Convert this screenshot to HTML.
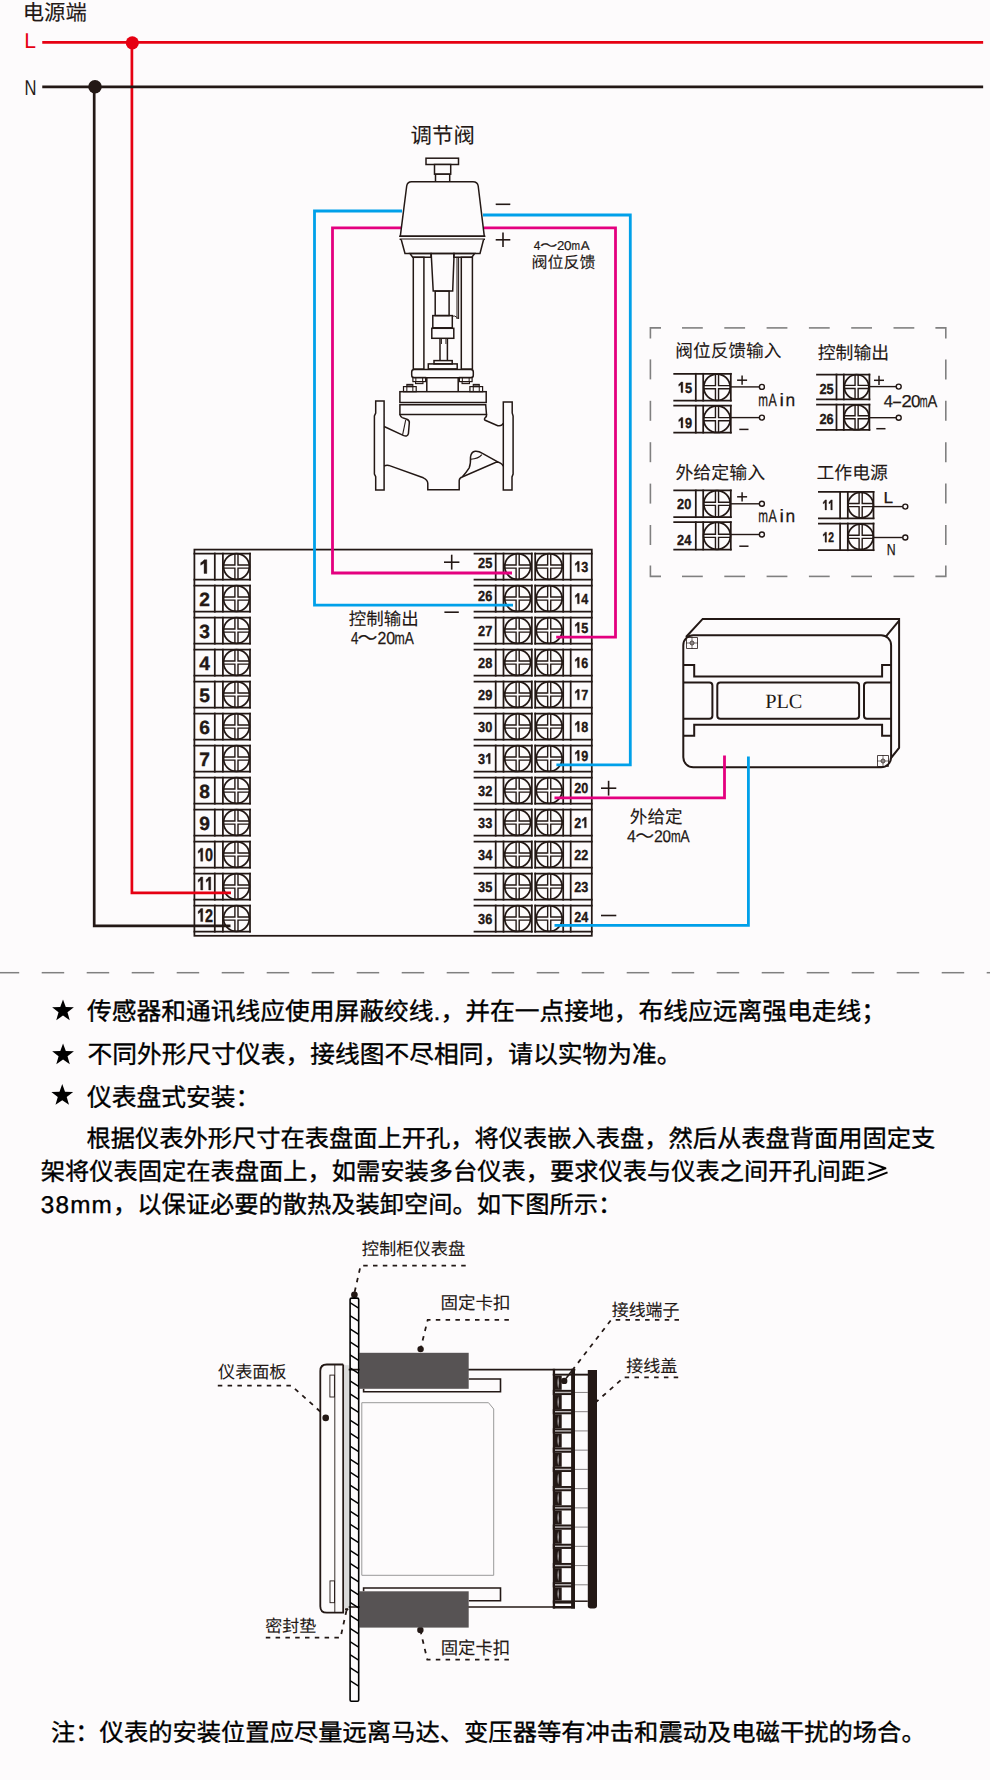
<!DOCTYPE html>
<html lang="zh-CN"><head><meta charset="utf-8"><title>wiring</title>
<style>
html,body{margin:0;padding:0;background:#fdfbfc;width:990px;height:1780px;overflow:hidden}
svg{display:block}

</style></head><body>
<svg width="990" height="1780" viewBox="0 0 990 1780">
<rect x="0" y="0" width="990" height="1780" fill="#fdfbfc"/>
<rect x="194.4" y="549.6" width="397.4" height="386.2" rx="0" fill="none" stroke="#231815" stroke-width="1.75" />
<line x1="194.4" y1="553.5" x2="250" y2="553.5" stroke="#231815" stroke-width="1.75" stroke-linecap="square" />
<line x1="194.4" y1="579.7" x2="250" y2="579.7" stroke="#231815" stroke-width="1.75" stroke-linecap="square" />
<line x1="214.8" y1="553.5" x2="214.8" y2="579.7" stroke="#231815" stroke-width="1.75" stroke-linecap="square" />
<line x1="222.9" y1="553.5" x2="222.9" y2="579.7" stroke="#231815" stroke-width="1.75" stroke-linecap="square" />
<line x1="250" y1="553.5" x2="250" y2="579.7" stroke="#231815" stroke-width="1.75" stroke-linecap="square" />
<circle cx="236.45" cy="566.60" r="12.90" fill="none" stroke="#231815" stroke-width="1.75"/>
<path d="M234.90,553.5 V565.05 H222.9 M238.00,553.5 V565.05 H250.0 M234.90,579.7 V568.15 H222.9 M238.00,579.7 V568.15 H250.0" fill="none" stroke="#231815" stroke-width="1.4"/>
<path d="M0.394,0 H0.25 V-0.53 L0.075,-0.43 V-0.565 Q0.2,-0.63 0.255,-0.716 H0.394 Z" fill="#231815" stroke="#231815" stroke-width="0.35" vector-effect="non-scaling-stroke" transform="translate(199.26 573.50) scale(19.200 19.200)"/>
<line x1="474.5" y1="553.5" x2="531.8" y2="553.5" stroke="#231815" stroke-width="1.75" stroke-linecap="square" />
<line x1="474.5" y1="579.7" x2="531.8" y2="579.7" stroke="#231815" stroke-width="1.75" stroke-linecap="square" />
<line x1="535.2" y1="553.5" x2="591.8" y2="553.5" stroke="#231815" stroke-width="1.75" stroke-linecap="square" />
<line x1="535.2" y1="579.7" x2="591.8" y2="579.7" stroke="#231815" stroke-width="1.75" stroke-linecap="square" />
<line x1="495.7" y1="553.5" x2="495.7" y2="579.7" stroke="#231815" stroke-width="1.75" stroke-linecap="square" />
<line x1="503.5" y1="553.5" x2="503.5" y2="579.7" stroke="#231815" stroke-width="1.75" stroke-linecap="square" />
<line x1="531.8" y1="553.5" x2="531.8" y2="579.7" stroke="#231815" stroke-width="1.75" stroke-linecap="square" />
<line x1="535.2" y1="553.5" x2="535.2" y2="579.7" stroke="#231815" stroke-width="1.75" stroke-linecap="square" />
<line x1="563.2" y1="553.5" x2="563.2" y2="579.7" stroke="#231815" stroke-width="1.75" stroke-linecap="square" />
<line x1="570.7" y1="553.5" x2="570.7" y2="579.7" stroke="#231815" stroke-width="1.75" stroke-linecap="square" />
<circle cx="517.65" cy="566.60" r="12.90" fill="none" stroke="#231815" stroke-width="1.75"/>
<path d="M516.10,553.5 V565.05 H503.5 M519.20,553.5 V565.05 H531.8 M516.10,579.7 V568.15 H503.5 M519.20,579.7 V568.15 H531.8" fill="none" stroke="#231815" stroke-width="1.4"/>
<circle cx="549.20" cy="566.60" r="12.90" fill="none" stroke="#231815" stroke-width="1.75"/>
<path d="M547.65,553.5 V565.05 H535.2 M550.75,553.5 V565.05 H563.2 M547.65,579.7 V568.15 H535.2 M550.75,579.7 V568.15 H563.2" fill="none" stroke="#231815" stroke-width="1.4"/>
<text x="0" y="0" font-size="14.6" fill="#231815" font-weight="bold" font-family="Liberation Sans" text-rendering="geometricPrecision" stroke="#231815" stroke-width="0.35" transform="translate(478.10 568.40) scale(0.8746 1)">2</text>
<text x="0" y="0" font-size="14.6" fill="#231815" font-weight="bold" font-family="Liberation Sans" text-rendering="geometricPrecision" stroke="#231815" stroke-width="0.35" transform="translate(485.20 568.40) scale(0.8746 1)">5</text>
<path d="M0.394,0 H0.25 V-0.53 L0.075,-0.43 V-0.565 Q0.2,-0.63 0.255,-0.716 H0.394 Z" fill="#231815" stroke="#231815" stroke-width="0.35" vector-effect="non-scaling-stroke" transform="translate(574.30 571.80) scale(12.590 14.600)"/>
<text x="0" y="0" font-size="14.6" fill="#231815" font-weight="bold" font-family="Liberation Sans" text-rendering="geometricPrecision" stroke="#231815" stroke-width="0.35" transform="translate(581.30 571.80) scale(0.8623 1)">3</text>
<line x1="194.4" y1="585.5" x2="250" y2="585.5" stroke="#231815" stroke-width="1.75" stroke-linecap="square" />
<line x1="194.4" y1="611.7" x2="250" y2="611.7" stroke="#231815" stroke-width="1.75" stroke-linecap="square" />
<line x1="214.8" y1="585.5" x2="214.8" y2="611.7" stroke="#231815" stroke-width="1.75" stroke-linecap="square" />
<line x1="222.9" y1="585.5" x2="222.9" y2="611.7" stroke="#231815" stroke-width="1.75" stroke-linecap="square" />
<line x1="250" y1="585.5" x2="250" y2="611.7" stroke="#231815" stroke-width="1.75" stroke-linecap="square" />
<circle cx="236.45" cy="598.60" r="12.90" fill="none" stroke="#231815" stroke-width="1.75"/>
<path d="M234.90,585.5 V597.05 H222.9 M238.00,585.5 V597.05 H250.0 M234.90,611.7 V600.15 H222.9 M238.00,611.7 V600.15 H250.0" fill="none" stroke="#231815" stroke-width="1.4"/>
<text x="0" y="0" font-size="19.2" fill="#231815" font-weight="bold" font-family="Liberation Sans" text-rendering="geometricPrecision" stroke="#231815" stroke-width="0.35" transform="translate(199.26 605.50) scale(1.0000 1)">2</text>
<line x1="474.5" y1="585.5" x2="531.8" y2="585.5" stroke="#231815" stroke-width="1.75" stroke-linecap="square" />
<line x1="474.5" y1="611.7" x2="531.8" y2="611.7" stroke="#231815" stroke-width="1.75" stroke-linecap="square" />
<line x1="535.2" y1="585.5" x2="591.8" y2="585.5" stroke="#231815" stroke-width="1.75" stroke-linecap="square" />
<line x1="535.2" y1="611.7" x2="591.8" y2="611.7" stroke="#231815" stroke-width="1.75" stroke-linecap="square" />
<line x1="495.7" y1="585.5" x2="495.7" y2="611.7" stroke="#231815" stroke-width="1.75" stroke-linecap="square" />
<line x1="503.5" y1="585.5" x2="503.5" y2="611.7" stroke="#231815" stroke-width="1.75" stroke-linecap="square" />
<line x1="531.8" y1="585.5" x2="531.8" y2="611.7" stroke="#231815" stroke-width="1.75" stroke-linecap="square" />
<line x1="535.2" y1="585.5" x2="535.2" y2="611.7" stroke="#231815" stroke-width="1.75" stroke-linecap="square" />
<line x1="563.2" y1="585.5" x2="563.2" y2="611.7" stroke="#231815" stroke-width="1.75" stroke-linecap="square" />
<line x1="570.7" y1="585.5" x2="570.7" y2="611.7" stroke="#231815" stroke-width="1.75" stroke-linecap="square" />
<circle cx="517.65" cy="598.60" r="12.90" fill="none" stroke="#231815" stroke-width="1.75"/>
<path d="M516.10,585.5 V597.05 H503.5 M519.20,585.5 V597.05 H531.8 M516.10,611.7 V600.15 H503.5 M519.20,611.7 V600.15 H531.8" fill="none" stroke="#231815" stroke-width="1.4"/>
<circle cx="549.20" cy="598.60" r="12.90" fill="none" stroke="#231815" stroke-width="1.75"/>
<path d="M547.65,585.5 V597.05 H535.2 M550.75,585.5 V597.05 H563.2 M547.65,611.7 V600.15 H535.2 M550.75,611.7 V600.15 H563.2" fill="none" stroke="#231815" stroke-width="1.4"/>
<text x="0" y="0" font-size="14.6" fill="#231815" font-weight="bold" font-family="Liberation Sans" text-rendering="geometricPrecision" stroke="#231815" stroke-width="0.35" transform="translate(478.10 600.80) scale(0.8746 1)">2</text>
<text x="0" y="0" font-size="14.6" fill="#231815" font-weight="bold" font-family="Liberation Sans" text-rendering="geometricPrecision" stroke="#231815" stroke-width="0.35" transform="translate(485.20 600.80) scale(0.8746 1)">6</text>
<path d="M0.394,0 H0.25 V-0.53 L0.075,-0.43 V-0.565 Q0.2,-0.63 0.255,-0.716 H0.394 Z" fill="#231815" stroke="#231815" stroke-width="0.35" vector-effect="non-scaling-stroke" transform="translate(574.30 603.80) scale(12.590 14.600)"/>
<text x="0" y="0" font-size="14.6" fill="#231815" font-weight="bold" font-family="Liberation Sans" text-rendering="geometricPrecision" stroke="#231815" stroke-width="0.35" transform="translate(581.30 603.80) scale(0.8623 1)">4</text>
<line x1="194.4" y1="617.5" x2="250" y2="617.5" stroke="#231815" stroke-width="1.75" stroke-linecap="square" />
<line x1="194.4" y1="643.7" x2="250" y2="643.7" stroke="#231815" stroke-width="1.75" stroke-linecap="square" />
<line x1="214.8" y1="617.5" x2="214.8" y2="643.7" stroke="#231815" stroke-width="1.75" stroke-linecap="square" />
<line x1="222.9" y1="617.5" x2="222.9" y2="643.7" stroke="#231815" stroke-width="1.75" stroke-linecap="square" />
<line x1="250" y1="617.5" x2="250" y2="643.7" stroke="#231815" stroke-width="1.75" stroke-linecap="square" />
<circle cx="236.45" cy="630.60" r="12.90" fill="none" stroke="#231815" stroke-width="1.75"/>
<path d="M234.90,617.5 V629.05 H222.9 M238.00,617.5 V629.05 H250.0 M234.90,643.7 V632.15 H222.9 M238.00,643.7 V632.15 H250.0" fill="none" stroke="#231815" stroke-width="1.4"/>
<text x="0" y="0" font-size="19.2" fill="#231815" font-weight="bold" font-family="Liberation Sans" text-rendering="geometricPrecision" stroke="#231815" stroke-width="0.35" transform="translate(199.26 637.50) scale(1.0000 1)">3</text>
<line x1="474.5" y1="617.5" x2="531.8" y2="617.5" stroke="#231815" stroke-width="1.75" stroke-linecap="square" />
<line x1="474.5" y1="643.7" x2="531.8" y2="643.7" stroke="#231815" stroke-width="1.75" stroke-linecap="square" />
<line x1="535.2" y1="617.5" x2="591.8" y2="617.5" stroke="#231815" stroke-width="1.75" stroke-linecap="square" />
<line x1="535.2" y1="643.7" x2="591.8" y2="643.7" stroke="#231815" stroke-width="1.75" stroke-linecap="square" />
<line x1="495.7" y1="617.5" x2="495.7" y2="643.7" stroke="#231815" stroke-width="1.75" stroke-linecap="square" />
<line x1="503.5" y1="617.5" x2="503.5" y2="643.7" stroke="#231815" stroke-width="1.75" stroke-linecap="square" />
<line x1="531.8" y1="617.5" x2="531.8" y2="643.7" stroke="#231815" stroke-width="1.75" stroke-linecap="square" />
<line x1="535.2" y1="617.5" x2="535.2" y2="643.7" stroke="#231815" stroke-width="1.75" stroke-linecap="square" />
<line x1="563.2" y1="617.5" x2="563.2" y2="643.7" stroke="#231815" stroke-width="1.75" stroke-linecap="square" />
<line x1="570.7" y1="617.5" x2="570.7" y2="643.7" stroke="#231815" stroke-width="1.75" stroke-linecap="square" />
<circle cx="517.65" cy="630.60" r="12.90" fill="none" stroke="#231815" stroke-width="1.75"/>
<path d="M516.10,617.5 V629.05 H503.5 M519.20,617.5 V629.05 H531.8 M516.10,643.7 V632.15 H503.5 M519.20,643.7 V632.15 H531.8" fill="none" stroke="#231815" stroke-width="1.4"/>
<circle cx="549.20" cy="630.60" r="12.90" fill="none" stroke="#231815" stroke-width="1.75"/>
<path d="M547.65,617.5 V629.05 H535.2 M550.75,617.5 V629.05 H563.2 M547.65,643.7 V632.15 H535.2 M550.75,643.7 V632.15 H563.2" fill="none" stroke="#231815" stroke-width="1.4"/>
<text x="0" y="0" font-size="14.6" fill="#231815" font-weight="bold" font-family="Liberation Sans" text-rendering="geometricPrecision" stroke="#231815" stroke-width="0.35" transform="translate(478.10 635.80) scale(0.8746 1)">2</text>
<text x="0" y="0" font-size="14.6" fill="#231815" font-weight="bold" font-family="Liberation Sans" text-rendering="geometricPrecision" stroke="#231815" stroke-width="0.35" transform="translate(485.20 635.80) scale(0.8746 1)">7</text>
<path d="M0.394,0 H0.25 V-0.53 L0.075,-0.43 V-0.565 Q0.2,-0.63 0.255,-0.716 H0.394 Z" fill="#231815" stroke="#231815" stroke-width="0.35" vector-effect="non-scaling-stroke" transform="translate(574.30 632.80) scale(12.590 14.600)"/>
<text x="0" y="0" font-size="14.6" fill="#231815" font-weight="bold" font-family="Liberation Sans" text-rendering="geometricPrecision" stroke="#231815" stroke-width="0.35" transform="translate(581.30 632.80) scale(0.8623 1)">5</text>
<line x1="194.4" y1="649.5" x2="250" y2="649.5" stroke="#231815" stroke-width="1.75" stroke-linecap="square" />
<line x1="194.4" y1="675.7" x2="250" y2="675.7" stroke="#231815" stroke-width="1.75" stroke-linecap="square" />
<line x1="214.8" y1="649.5" x2="214.8" y2="675.7" stroke="#231815" stroke-width="1.75" stroke-linecap="square" />
<line x1="222.9" y1="649.5" x2="222.9" y2="675.7" stroke="#231815" stroke-width="1.75" stroke-linecap="square" />
<line x1="250" y1="649.5" x2="250" y2="675.7" stroke="#231815" stroke-width="1.75" stroke-linecap="square" />
<circle cx="236.45" cy="662.60" r="12.90" fill="none" stroke="#231815" stroke-width="1.75"/>
<path d="M234.90,649.5 V661.05 H222.9 M238.00,649.5 V661.05 H250.0 M234.90,675.7 V664.15 H222.9 M238.00,675.7 V664.15 H250.0" fill="none" stroke="#231815" stroke-width="1.4"/>
<text x="0" y="0" font-size="19.2" fill="#231815" font-weight="bold" font-family="Liberation Sans" text-rendering="geometricPrecision" stroke="#231815" stroke-width="0.35" transform="translate(199.26 669.50) scale(1.0000 1)">4</text>
<line x1="474.5" y1="649.5" x2="531.8" y2="649.5" stroke="#231815" stroke-width="1.75" stroke-linecap="square" />
<line x1="474.5" y1="675.7" x2="531.8" y2="675.7" stroke="#231815" stroke-width="1.75" stroke-linecap="square" />
<line x1="535.2" y1="649.5" x2="591.8" y2="649.5" stroke="#231815" stroke-width="1.75" stroke-linecap="square" />
<line x1="535.2" y1="675.7" x2="591.8" y2="675.7" stroke="#231815" stroke-width="1.75" stroke-linecap="square" />
<line x1="495.7" y1="649.5" x2="495.7" y2="675.7" stroke="#231815" stroke-width="1.75" stroke-linecap="square" />
<line x1="503.5" y1="649.5" x2="503.5" y2="675.7" stroke="#231815" stroke-width="1.75" stroke-linecap="square" />
<line x1="531.8" y1="649.5" x2="531.8" y2="675.7" stroke="#231815" stroke-width="1.75" stroke-linecap="square" />
<line x1="535.2" y1="649.5" x2="535.2" y2="675.7" stroke="#231815" stroke-width="1.75" stroke-linecap="square" />
<line x1="563.2" y1="649.5" x2="563.2" y2="675.7" stroke="#231815" stroke-width="1.75" stroke-linecap="square" />
<line x1="570.7" y1="649.5" x2="570.7" y2="675.7" stroke="#231815" stroke-width="1.75" stroke-linecap="square" />
<circle cx="517.65" cy="662.60" r="12.90" fill="none" stroke="#231815" stroke-width="1.75"/>
<path d="M516.10,649.5 V661.05 H503.5 M519.20,649.5 V661.05 H531.8 M516.10,675.7 V664.15 H503.5 M519.20,675.7 V664.15 H531.8" fill="none" stroke="#231815" stroke-width="1.4"/>
<circle cx="549.20" cy="662.60" r="12.90" fill="none" stroke="#231815" stroke-width="1.75"/>
<path d="M547.65,649.5 V661.05 H535.2 M550.75,649.5 V661.05 H563.2 M547.65,675.7 V664.15 H535.2 M550.75,675.7 V664.15 H563.2" fill="none" stroke="#231815" stroke-width="1.4"/>
<text x="0" y="0" font-size="14.6" fill="#231815" font-weight="bold" font-family="Liberation Sans" text-rendering="geometricPrecision" stroke="#231815" stroke-width="0.35" transform="translate(478.10 667.80) scale(0.8746 1)">2</text>
<text x="0" y="0" font-size="14.6" fill="#231815" font-weight="bold" font-family="Liberation Sans" text-rendering="geometricPrecision" stroke="#231815" stroke-width="0.35" transform="translate(485.20 667.80) scale(0.8746 1)">8</text>
<path d="M0.394,0 H0.25 V-0.53 L0.075,-0.43 V-0.565 Q0.2,-0.63 0.255,-0.716 H0.394 Z" fill="#231815" stroke="#231815" stroke-width="0.35" vector-effect="non-scaling-stroke" transform="translate(574.30 667.80) scale(12.590 14.600)"/>
<text x="0" y="0" font-size="14.6" fill="#231815" font-weight="bold" font-family="Liberation Sans" text-rendering="geometricPrecision" stroke="#231815" stroke-width="0.35" transform="translate(581.30 667.80) scale(0.8623 1)">6</text>
<line x1="194.4" y1="681.5" x2="250" y2="681.5" stroke="#231815" stroke-width="1.75" stroke-linecap="square" />
<line x1="194.4" y1="707.7" x2="250" y2="707.7" stroke="#231815" stroke-width="1.75" stroke-linecap="square" />
<line x1="214.8" y1="681.5" x2="214.8" y2="707.7" stroke="#231815" stroke-width="1.75" stroke-linecap="square" />
<line x1="222.9" y1="681.5" x2="222.9" y2="707.7" stroke="#231815" stroke-width="1.75" stroke-linecap="square" />
<line x1="250" y1="681.5" x2="250" y2="707.7" stroke="#231815" stroke-width="1.75" stroke-linecap="square" />
<circle cx="236.45" cy="694.60" r="12.90" fill="none" stroke="#231815" stroke-width="1.75"/>
<path d="M234.90,681.5 V693.05 H222.9 M238.00,681.5 V693.05 H250.0 M234.90,707.7 V696.15 H222.9 M238.00,707.7 V696.15 H250.0" fill="none" stroke="#231815" stroke-width="1.4"/>
<text x="0" y="0" font-size="19.2" fill="#231815" font-weight="bold" font-family="Liberation Sans" text-rendering="geometricPrecision" stroke="#231815" stroke-width="0.35" transform="translate(199.26 701.50) scale(1.0000 1)">5</text>
<line x1="474.5" y1="681.5" x2="531.8" y2="681.5" stroke="#231815" stroke-width="1.75" stroke-linecap="square" />
<line x1="474.5" y1="707.7" x2="531.8" y2="707.7" stroke="#231815" stroke-width="1.75" stroke-linecap="square" />
<line x1="535.2" y1="681.5" x2="591.8" y2="681.5" stroke="#231815" stroke-width="1.75" stroke-linecap="square" />
<line x1="535.2" y1="707.7" x2="591.8" y2="707.7" stroke="#231815" stroke-width="1.75" stroke-linecap="square" />
<line x1="495.7" y1="681.5" x2="495.7" y2="707.7" stroke="#231815" stroke-width="1.75" stroke-linecap="square" />
<line x1="503.5" y1="681.5" x2="503.5" y2="707.7" stroke="#231815" stroke-width="1.75" stroke-linecap="square" />
<line x1="531.8" y1="681.5" x2="531.8" y2="707.7" stroke="#231815" stroke-width="1.75" stroke-linecap="square" />
<line x1="535.2" y1="681.5" x2="535.2" y2="707.7" stroke="#231815" stroke-width="1.75" stroke-linecap="square" />
<line x1="563.2" y1="681.5" x2="563.2" y2="707.7" stroke="#231815" stroke-width="1.75" stroke-linecap="square" />
<line x1="570.7" y1="681.5" x2="570.7" y2="707.7" stroke="#231815" stroke-width="1.75" stroke-linecap="square" />
<circle cx="517.65" cy="694.60" r="12.90" fill="none" stroke="#231815" stroke-width="1.75"/>
<path d="M516.10,681.5 V693.05 H503.5 M519.20,681.5 V693.05 H531.8 M516.10,707.7 V696.15 H503.5 M519.20,707.7 V696.15 H531.8" fill="none" stroke="#231815" stroke-width="1.4"/>
<circle cx="549.20" cy="694.60" r="12.90" fill="none" stroke="#231815" stroke-width="1.75"/>
<path d="M547.65,681.5 V693.05 H535.2 M550.75,681.5 V693.05 H563.2 M547.65,707.7 V696.15 H535.2 M550.75,707.7 V696.15 H563.2" fill="none" stroke="#231815" stroke-width="1.4"/>
<text x="0" y="0" font-size="14.6" fill="#231815" font-weight="bold" font-family="Liberation Sans" text-rendering="geometricPrecision" stroke="#231815" stroke-width="0.35" transform="translate(478.10 699.80) scale(0.8746 1)">2</text>
<text x="0" y="0" font-size="14.6" fill="#231815" font-weight="bold" font-family="Liberation Sans" text-rendering="geometricPrecision" stroke="#231815" stroke-width="0.35" transform="translate(485.20 699.80) scale(0.8746 1)">9</text>
<path d="M0.394,0 H0.25 V-0.53 L0.075,-0.43 V-0.565 Q0.2,-0.63 0.255,-0.716 H0.394 Z" fill="#231815" stroke="#231815" stroke-width="0.35" vector-effect="non-scaling-stroke" transform="translate(574.30 699.80) scale(12.590 14.600)"/>
<text x="0" y="0" font-size="14.6" fill="#231815" font-weight="bold" font-family="Liberation Sans" text-rendering="geometricPrecision" stroke="#231815" stroke-width="0.35" transform="translate(581.30 699.80) scale(0.8623 1)">7</text>
<line x1="194.4" y1="713.5" x2="250" y2="713.5" stroke="#231815" stroke-width="1.75" stroke-linecap="square" />
<line x1="194.4" y1="739.7" x2="250" y2="739.7" stroke="#231815" stroke-width="1.75" stroke-linecap="square" />
<line x1="214.8" y1="713.5" x2="214.8" y2="739.7" stroke="#231815" stroke-width="1.75" stroke-linecap="square" />
<line x1="222.9" y1="713.5" x2="222.9" y2="739.7" stroke="#231815" stroke-width="1.75" stroke-linecap="square" />
<line x1="250" y1="713.5" x2="250" y2="739.7" stroke="#231815" stroke-width="1.75" stroke-linecap="square" />
<circle cx="236.45" cy="726.60" r="12.90" fill="none" stroke="#231815" stroke-width="1.75"/>
<path d="M234.90,713.5 V725.05 H222.9 M238.00,713.5 V725.05 H250.0 M234.90,739.7 V728.15 H222.9 M238.00,739.7 V728.15 H250.0" fill="none" stroke="#231815" stroke-width="1.4"/>
<text x="0" y="0" font-size="19.2" fill="#231815" font-weight="bold" font-family="Liberation Sans" text-rendering="geometricPrecision" stroke="#231815" stroke-width="0.35" transform="translate(199.26 733.50) scale(1.0000 1)">6</text>
<line x1="474.5" y1="713.5" x2="531.8" y2="713.5" stroke="#231815" stroke-width="1.75" stroke-linecap="square" />
<line x1="474.5" y1="739.7" x2="531.8" y2="739.7" stroke="#231815" stroke-width="1.75" stroke-linecap="square" />
<line x1="535.2" y1="713.5" x2="591.8" y2="713.5" stroke="#231815" stroke-width="1.75" stroke-linecap="square" />
<line x1="535.2" y1="739.7" x2="591.8" y2="739.7" stroke="#231815" stroke-width="1.75" stroke-linecap="square" />
<line x1="495.7" y1="713.5" x2="495.7" y2="739.7" stroke="#231815" stroke-width="1.75" stroke-linecap="square" />
<line x1="503.5" y1="713.5" x2="503.5" y2="739.7" stroke="#231815" stroke-width="1.75" stroke-linecap="square" />
<line x1="531.8" y1="713.5" x2="531.8" y2="739.7" stroke="#231815" stroke-width="1.75" stroke-linecap="square" />
<line x1="535.2" y1="713.5" x2="535.2" y2="739.7" stroke="#231815" stroke-width="1.75" stroke-linecap="square" />
<line x1="563.2" y1="713.5" x2="563.2" y2="739.7" stroke="#231815" stroke-width="1.75" stroke-linecap="square" />
<line x1="570.7" y1="713.5" x2="570.7" y2="739.7" stroke="#231815" stroke-width="1.75" stroke-linecap="square" />
<circle cx="517.65" cy="726.60" r="12.90" fill="none" stroke="#231815" stroke-width="1.75"/>
<path d="M516.10,713.5 V725.05 H503.5 M519.20,713.5 V725.05 H531.8 M516.10,739.7 V728.15 H503.5 M519.20,739.7 V728.15 H531.8" fill="none" stroke="#231815" stroke-width="1.4"/>
<circle cx="549.20" cy="726.60" r="12.90" fill="none" stroke="#231815" stroke-width="1.75"/>
<path d="M547.65,713.5 V725.05 H535.2 M550.75,713.5 V725.05 H563.2 M547.65,739.7 V728.15 H535.2 M550.75,739.7 V728.15 H563.2" fill="none" stroke="#231815" stroke-width="1.4"/>
<text x="0" y="0" font-size="14.6" fill="#231815" font-weight="bold" font-family="Liberation Sans" text-rendering="geometricPrecision" stroke="#231815" stroke-width="0.35" transform="translate(478.10 731.80) scale(0.8746 1)">3</text>
<text x="0" y="0" font-size="14.6" fill="#231815" font-weight="bold" font-family="Liberation Sans" text-rendering="geometricPrecision" stroke="#231815" stroke-width="0.35" transform="translate(485.20 731.80) scale(0.8746 1)">0</text>
<path d="M0.394,0 H0.25 V-0.53 L0.075,-0.43 V-0.565 Q0.2,-0.63 0.255,-0.716 H0.394 Z" fill="#231815" stroke="#231815" stroke-width="0.35" vector-effect="non-scaling-stroke" transform="translate(574.30 731.80) scale(12.590 14.600)"/>
<text x="0" y="0" font-size="14.6" fill="#231815" font-weight="bold" font-family="Liberation Sans" text-rendering="geometricPrecision" stroke="#231815" stroke-width="0.35" transform="translate(581.30 731.80) scale(0.8623 1)">8</text>
<line x1="194.4" y1="745.5" x2="250" y2="745.5" stroke="#231815" stroke-width="1.75" stroke-linecap="square" />
<line x1="194.4" y1="771.7" x2="250" y2="771.7" stroke="#231815" stroke-width="1.75" stroke-linecap="square" />
<line x1="214.8" y1="745.5" x2="214.8" y2="771.7" stroke="#231815" stroke-width="1.75" stroke-linecap="square" />
<line x1="222.9" y1="745.5" x2="222.9" y2="771.7" stroke="#231815" stroke-width="1.75" stroke-linecap="square" />
<line x1="250" y1="745.5" x2="250" y2="771.7" stroke="#231815" stroke-width="1.75" stroke-linecap="square" />
<circle cx="236.45" cy="758.60" r="12.90" fill="none" stroke="#231815" stroke-width="1.75"/>
<path d="M234.90,745.5 V757.05 H222.9 M238.00,745.5 V757.05 H250.0 M234.90,771.7 V760.15 H222.9 M238.00,771.7 V760.15 H250.0" fill="none" stroke="#231815" stroke-width="1.4"/>
<text x="0" y="0" font-size="19.2" fill="#231815" font-weight="bold" font-family="Liberation Sans" text-rendering="geometricPrecision" stroke="#231815" stroke-width="0.35" transform="translate(199.26 765.50) scale(1.0000 1)">7</text>
<line x1="474.5" y1="745.5" x2="531.8" y2="745.5" stroke="#231815" stroke-width="1.75" stroke-linecap="square" />
<line x1="474.5" y1="771.7" x2="531.8" y2="771.7" stroke="#231815" stroke-width="1.75" stroke-linecap="square" />
<line x1="535.2" y1="745.5" x2="591.8" y2="745.5" stroke="#231815" stroke-width="1.75" stroke-linecap="square" />
<line x1="535.2" y1="771.7" x2="591.8" y2="771.7" stroke="#231815" stroke-width="1.75" stroke-linecap="square" />
<line x1="495.7" y1="745.5" x2="495.7" y2="771.7" stroke="#231815" stroke-width="1.75" stroke-linecap="square" />
<line x1="503.5" y1="745.5" x2="503.5" y2="771.7" stroke="#231815" stroke-width="1.75" stroke-linecap="square" />
<line x1="531.8" y1="745.5" x2="531.8" y2="771.7" stroke="#231815" stroke-width="1.75" stroke-linecap="square" />
<line x1="535.2" y1="745.5" x2="535.2" y2="771.7" stroke="#231815" stroke-width="1.75" stroke-linecap="square" />
<line x1="563.2" y1="745.5" x2="563.2" y2="771.7" stroke="#231815" stroke-width="1.75" stroke-linecap="square" />
<line x1="570.7" y1="745.5" x2="570.7" y2="771.7" stroke="#231815" stroke-width="1.75" stroke-linecap="square" />
<circle cx="517.65" cy="758.60" r="12.90" fill="none" stroke="#231815" stroke-width="1.75"/>
<path d="M516.10,745.5 V757.05 H503.5 M519.20,745.5 V757.05 H531.8 M516.10,771.7 V760.15 H503.5 M519.20,771.7 V760.15 H531.8" fill="none" stroke="#231815" stroke-width="1.4"/>
<circle cx="549.20" cy="758.60" r="12.90" fill="none" stroke="#231815" stroke-width="1.75"/>
<path d="M547.65,745.5 V757.05 H535.2 M550.75,745.5 V757.05 H563.2 M547.65,771.7 V760.15 H535.2 M550.75,771.7 V760.15 H563.2" fill="none" stroke="#231815" stroke-width="1.4"/>
<text x="0" y="0" font-size="14.6" fill="#231815" font-weight="bold" font-family="Liberation Sans" text-rendering="geometricPrecision" stroke="#231815" stroke-width="0.35" transform="translate(478.10 763.80) scale(0.8746 1)">3</text>
<path d="M0.394,0 H0.25 V-0.53 L0.075,-0.43 V-0.565 Q0.2,-0.63 0.255,-0.716 H0.394 Z" fill="#231815" stroke="#231815" stroke-width="0.35" vector-effect="non-scaling-stroke" transform="translate(485.20 763.80) scale(12.770 14.600)"/>
<path d="M0.394,0 H0.25 V-0.53 L0.075,-0.43 V-0.565 Q0.2,-0.63 0.255,-0.716 H0.394 Z" fill="#231815" stroke="#231815" stroke-width="0.35" vector-effect="non-scaling-stroke" transform="translate(574.30 760.80) scale(12.590 14.600)"/>
<text x="0" y="0" font-size="14.6" fill="#231815" font-weight="bold" font-family="Liberation Sans" text-rendering="geometricPrecision" stroke="#231815" stroke-width="0.35" transform="translate(581.30 760.80) scale(0.8623 1)">9</text>
<line x1="194.4" y1="777.5" x2="250" y2="777.5" stroke="#231815" stroke-width="1.75" stroke-linecap="square" />
<line x1="194.4" y1="803.7" x2="250" y2="803.7" stroke="#231815" stroke-width="1.75" stroke-linecap="square" />
<line x1="214.8" y1="777.5" x2="214.8" y2="803.7" stroke="#231815" stroke-width="1.75" stroke-linecap="square" />
<line x1="222.9" y1="777.5" x2="222.9" y2="803.7" stroke="#231815" stroke-width="1.75" stroke-linecap="square" />
<line x1="250" y1="777.5" x2="250" y2="803.7" stroke="#231815" stroke-width="1.75" stroke-linecap="square" />
<circle cx="236.45" cy="790.60" r="12.90" fill="none" stroke="#231815" stroke-width="1.75"/>
<path d="M234.90,777.5 V789.05 H222.9 M238.00,777.5 V789.05 H250.0 M234.90,803.7 V792.15 H222.9 M238.00,803.7 V792.15 H250.0" fill="none" stroke="#231815" stroke-width="1.4"/>
<text x="0" y="0" font-size="19.2" fill="#231815" font-weight="bold" font-family="Liberation Sans" text-rendering="geometricPrecision" stroke="#231815" stroke-width="0.35" transform="translate(199.26 797.50) scale(1.0000 1)">8</text>
<line x1="474.5" y1="777.5" x2="531.8" y2="777.5" stroke="#231815" stroke-width="1.75" stroke-linecap="square" />
<line x1="474.5" y1="803.7" x2="531.8" y2="803.7" stroke="#231815" stroke-width="1.75" stroke-linecap="square" />
<line x1="535.2" y1="777.5" x2="591.8" y2="777.5" stroke="#231815" stroke-width="1.75" stroke-linecap="square" />
<line x1="535.2" y1="803.7" x2="591.8" y2="803.7" stroke="#231815" stroke-width="1.75" stroke-linecap="square" />
<line x1="495.7" y1="777.5" x2="495.7" y2="803.7" stroke="#231815" stroke-width="1.75" stroke-linecap="square" />
<line x1="503.5" y1="777.5" x2="503.5" y2="803.7" stroke="#231815" stroke-width="1.75" stroke-linecap="square" />
<line x1="531.8" y1="777.5" x2="531.8" y2="803.7" stroke="#231815" stroke-width="1.75" stroke-linecap="square" />
<line x1="535.2" y1="777.5" x2="535.2" y2="803.7" stroke="#231815" stroke-width="1.75" stroke-linecap="square" />
<line x1="563.2" y1="777.5" x2="563.2" y2="803.7" stroke="#231815" stroke-width="1.75" stroke-linecap="square" />
<line x1="570.7" y1="777.5" x2="570.7" y2="803.7" stroke="#231815" stroke-width="1.75" stroke-linecap="square" />
<circle cx="517.65" cy="790.60" r="12.90" fill="none" stroke="#231815" stroke-width="1.75"/>
<path d="M516.10,777.5 V789.05 H503.5 M519.20,777.5 V789.05 H531.8 M516.10,803.7 V792.15 H503.5 M519.20,803.7 V792.15 H531.8" fill="none" stroke="#231815" stroke-width="1.4"/>
<circle cx="549.20" cy="790.60" r="12.90" fill="none" stroke="#231815" stroke-width="1.75"/>
<path d="M547.65,777.5 V789.05 H535.2 M550.75,777.5 V789.05 H563.2 M547.65,803.7 V792.15 H535.2 M550.75,803.7 V792.15 H563.2" fill="none" stroke="#231815" stroke-width="1.4"/>
<text x="0" y="0" font-size="14.6" fill="#231815" font-weight="bold" font-family="Liberation Sans" text-rendering="geometricPrecision" stroke="#231815" stroke-width="0.35" transform="translate(478.10 795.80) scale(0.8746 1)">3</text>
<text x="0" y="0" font-size="14.6" fill="#231815" font-weight="bold" font-family="Liberation Sans" text-rendering="geometricPrecision" stroke="#231815" stroke-width="0.35" transform="translate(485.20 795.80) scale(0.8746 1)">2</text>
<text x="0" y="0" font-size="14.6" fill="#231815" font-weight="bold" font-family="Liberation Sans" text-rendering="geometricPrecision" stroke="#231815" stroke-width="0.35" transform="translate(574.30 793.40) scale(0.8623 1)">2</text>
<text x="0" y="0" font-size="14.6" fill="#231815" font-weight="bold" font-family="Liberation Sans" text-rendering="geometricPrecision" stroke="#231815" stroke-width="0.35" transform="translate(581.30 793.40) scale(0.8623 1)">0</text>
<line x1="194.4" y1="809.5" x2="250" y2="809.5" stroke="#231815" stroke-width="1.75" stroke-linecap="square" />
<line x1="194.4" y1="835.7" x2="250" y2="835.7" stroke="#231815" stroke-width="1.75" stroke-linecap="square" />
<line x1="214.8" y1="809.5" x2="214.8" y2="835.7" stroke="#231815" stroke-width="1.75" stroke-linecap="square" />
<line x1="222.9" y1="809.5" x2="222.9" y2="835.7" stroke="#231815" stroke-width="1.75" stroke-linecap="square" />
<line x1="250" y1="809.5" x2="250" y2="835.7" stroke="#231815" stroke-width="1.75" stroke-linecap="square" />
<circle cx="236.45" cy="822.60" r="12.90" fill="none" stroke="#231815" stroke-width="1.75"/>
<path d="M234.90,809.5 V821.05 H222.9 M238.00,809.5 V821.05 H250.0 M234.90,835.7 V824.15 H222.9 M238.00,835.7 V824.15 H250.0" fill="none" stroke="#231815" stroke-width="1.4"/>
<text x="0" y="0" font-size="19.2" fill="#231815" font-weight="bold" font-family="Liberation Sans" text-rendering="geometricPrecision" stroke="#231815" stroke-width="0.35" transform="translate(199.26 829.50) scale(1.0000 1)">9</text>
<line x1="474.5" y1="809.5" x2="531.8" y2="809.5" stroke="#231815" stroke-width="1.75" stroke-linecap="square" />
<line x1="474.5" y1="835.7" x2="531.8" y2="835.7" stroke="#231815" stroke-width="1.75" stroke-linecap="square" />
<line x1="535.2" y1="809.5" x2="591.8" y2="809.5" stroke="#231815" stroke-width="1.75" stroke-linecap="square" />
<line x1="535.2" y1="835.7" x2="591.8" y2="835.7" stroke="#231815" stroke-width="1.75" stroke-linecap="square" />
<line x1="495.7" y1="809.5" x2="495.7" y2="835.7" stroke="#231815" stroke-width="1.75" stroke-linecap="square" />
<line x1="503.5" y1="809.5" x2="503.5" y2="835.7" stroke="#231815" stroke-width="1.75" stroke-linecap="square" />
<line x1="531.8" y1="809.5" x2="531.8" y2="835.7" stroke="#231815" stroke-width="1.75" stroke-linecap="square" />
<line x1="535.2" y1="809.5" x2="535.2" y2="835.7" stroke="#231815" stroke-width="1.75" stroke-linecap="square" />
<line x1="563.2" y1="809.5" x2="563.2" y2="835.7" stroke="#231815" stroke-width="1.75" stroke-linecap="square" />
<line x1="570.7" y1="809.5" x2="570.7" y2="835.7" stroke="#231815" stroke-width="1.75" stroke-linecap="square" />
<circle cx="517.65" cy="822.60" r="12.90" fill="none" stroke="#231815" stroke-width="1.75"/>
<path d="M516.10,809.5 V821.05 H503.5 M519.20,809.5 V821.05 H531.8 M516.10,835.7 V824.15 H503.5 M519.20,835.7 V824.15 H531.8" fill="none" stroke="#231815" stroke-width="1.4"/>
<circle cx="549.20" cy="822.60" r="12.90" fill="none" stroke="#231815" stroke-width="1.75"/>
<path d="M547.65,809.5 V821.05 H535.2 M550.75,809.5 V821.05 H563.2 M547.65,835.7 V824.15 H535.2 M550.75,835.7 V824.15 H563.2" fill="none" stroke="#231815" stroke-width="1.4"/>
<text x="0" y="0" font-size="14.6" fill="#231815" font-weight="bold" font-family="Liberation Sans" text-rendering="geometricPrecision" stroke="#231815" stroke-width="0.35" transform="translate(478.10 827.80) scale(0.8746 1)">3</text>
<text x="0" y="0" font-size="14.6" fill="#231815" font-weight="bold" font-family="Liberation Sans" text-rendering="geometricPrecision" stroke="#231815" stroke-width="0.35" transform="translate(485.20 827.80) scale(0.8746 1)">3</text>
<text x="0" y="0" font-size="14.6" fill="#231815" font-weight="bold" font-family="Liberation Sans" text-rendering="geometricPrecision" stroke="#231815" stroke-width="0.35" transform="translate(574.30 827.80) scale(0.8623 1)">2</text>
<path d="M0.394,0 H0.25 V-0.53 L0.075,-0.43 V-0.565 Q0.2,-0.63 0.255,-0.716 H0.394 Z" fill="#231815" stroke="#231815" stroke-width="0.35" vector-effect="non-scaling-stroke" transform="translate(581.30 827.80) scale(12.590 14.600)"/>
<line x1="194.4" y1="841.5" x2="250" y2="841.5" stroke="#231815" stroke-width="1.75" stroke-linecap="square" />
<line x1="194.4" y1="867.7" x2="250" y2="867.7" stroke="#231815" stroke-width="1.75" stroke-linecap="square" />
<line x1="214.8" y1="841.5" x2="214.8" y2="867.7" stroke="#231815" stroke-width="1.75" stroke-linecap="square" />
<line x1="222.9" y1="841.5" x2="222.9" y2="867.7" stroke="#231815" stroke-width="1.75" stroke-linecap="square" />
<line x1="250" y1="841.5" x2="250" y2="867.7" stroke="#231815" stroke-width="1.75" stroke-linecap="square" />
<circle cx="236.45" cy="854.60" r="12.90" fill="none" stroke="#231815" stroke-width="1.75"/>
<path d="M234.90,841.5 V853.05 H222.9 M238.00,841.5 V853.05 H250.0 M234.90,867.7 V856.15 H222.9 M238.00,867.7 V856.15 H250.0" fill="none" stroke="#231815" stroke-width="1.4"/>
<path d="M0.394,0 H0.25 V-0.53 L0.075,-0.43 V-0.565 Q0.2,-0.63 0.255,-0.716 H0.394 Z" fill="#231815" stroke="#231815" stroke-width="0.35" vector-effect="non-scaling-stroke" transform="translate(197.10 861.20) scale(14.388 18.200)"/>
<text x="0" y="0" font-size="18.2" fill="#231815" font-weight="bold" font-family="Liberation Sans" text-rendering="geometricPrecision" stroke="#231815" stroke-width="0.35" transform="translate(205.10 861.20) scale(0.7906 1)">0</text>
<line x1="474.5" y1="841.5" x2="531.8" y2="841.5" stroke="#231815" stroke-width="1.75" stroke-linecap="square" />
<line x1="474.5" y1="867.7" x2="531.8" y2="867.7" stroke="#231815" stroke-width="1.75" stroke-linecap="square" />
<line x1="535.2" y1="841.5" x2="591.8" y2="841.5" stroke="#231815" stroke-width="1.75" stroke-linecap="square" />
<line x1="535.2" y1="867.7" x2="591.8" y2="867.7" stroke="#231815" stroke-width="1.75" stroke-linecap="square" />
<line x1="495.7" y1="841.5" x2="495.7" y2="867.7" stroke="#231815" stroke-width="1.75" stroke-linecap="square" />
<line x1="503.5" y1="841.5" x2="503.5" y2="867.7" stroke="#231815" stroke-width="1.75" stroke-linecap="square" />
<line x1="531.8" y1="841.5" x2="531.8" y2="867.7" stroke="#231815" stroke-width="1.75" stroke-linecap="square" />
<line x1="535.2" y1="841.5" x2="535.2" y2="867.7" stroke="#231815" stroke-width="1.75" stroke-linecap="square" />
<line x1="563.2" y1="841.5" x2="563.2" y2="867.7" stroke="#231815" stroke-width="1.75" stroke-linecap="square" />
<line x1="570.7" y1="841.5" x2="570.7" y2="867.7" stroke="#231815" stroke-width="1.75" stroke-linecap="square" />
<circle cx="517.65" cy="854.60" r="12.90" fill="none" stroke="#231815" stroke-width="1.75"/>
<path d="M516.10,841.5 V853.05 H503.5 M519.20,841.5 V853.05 H531.8 M516.10,867.7 V856.15 H503.5 M519.20,867.7 V856.15 H531.8" fill="none" stroke="#231815" stroke-width="1.4"/>
<circle cx="549.20" cy="854.60" r="12.90" fill="none" stroke="#231815" stroke-width="1.75"/>
<path d="M547.65,841.5 V853.05 H535.2 M550.75,841.5 V853.05 H563.2 M547.65,867.7 V856.15 H535.2 M550.75,867.7 V856.15 H563.2" fill="none" stroke="#231815" stroke-width="1.4"/>
<text x="0" y="0" font-size="14.6" fill="#231815" font-weight="bold" font-family="Liberation Sans" text-rendering="geometricPrecision" stroke="#231815" stroke-width="0.35" transform="translate(478.10 859.80) scale(0.8746 1)">3</text>
<text x="0" y="0" font-size="14.6" fill="#231815" font-weight="bold" font-family="Liberation Sans" text-rendering="geometricPrecision" stroke="#231815" stroke-width="0.35" transform="translate(485.20 859.80) scale(0.8746 1)">4</text>
<text x="0" y="0" font-size="14.6" fill="#231815" font-weight="bold" font-family="Liberation Sans" text-rendering="geometricPrecision" stroke="#231815" stroke-width="0.35" transform="translate(574.30 859.80) scale(0.8623 1)">2</text>
<text x="0" y="0" font-size="14.6" fill="#231815" font-weight="bold" font-family="Liberation Sans" text-rendering="geometricPrecision" stroke="#231815" stroke-width="0.35" transform="translate(581.30 859.80) scale(0.8623 1)">2</text>
<line x1="194.4" y1="873.5" x2="250" y2="873.5" stroke="#231815" stroke-width="1.75" stroke-linecap="square" />
<line x1="194.4" y1="899.7" x2="250" y2="899.7" stroke="#231815" stroke-width="1.75" stroke-linecap="square" />
<line x1="214.8" y1="873.5" x2="214.8" y2="899.7" stroke="#231815" stroke-width="1.75" stroke-linecap="square" />
<line x1="222.9" y1="873.5" x2="222.9" y2="899.7" stroke="#231815" stroke-width="1.75" stroke-linecap="square" />
<line x1="250" y1="873.5" x2="250" y2="899.7" stroke="#231815" stroke-width="1.75" stroke-linecap="square" />
<circle cx="236.45" cy="886.60" r="12.90" fill="none" stroke="#231815" stroke-width="1.75"/>
<path d="M234.90,873.5 V885.05 H222.9 M238.00,873.5 V885.05 H250.0 M234.90,899.7 V888.15 H222.9 M238.00,899.7 V888.15 H250.0" fill="none" stroke="#231815" stroke-width="1.4"/>
<path d="M0.394,0 H0.25 V-0.53 L0.075,-0.43 V-0.565 Q0.2,-0.63 0.255,-0.716 H0.394 Z" fill="#231815" stroke="#231815" stroke-width="0.35" vector-effect="non-scaling-stroke" transform="translate(197.10 890.00) scale(14.388 18.200)"/>
<path d="M0.394,0 H0.25 V-0.53 L0.075,-0.43 V-0.565 Q0.2,-0.63 0.255,-0.716 H0.394 Z" fill="#231815" stroke="#231815" stroke-width="0.35" vector-effect="non-scaling-stroke" transform="translate(205.10 890.00) scale(14.388 18.200)"/>
<line x1="474.5" y1="873.5" x2="531.8" y2="873.5" stroke="#231815" stroke-width="1.75" stroke-linecap="square" />
<line x1="474.5" y1="899.7" x2="531.8" y2="899.7" stroke="#231815" stroke-width="1.75" stroke-linecap="square" />
<line x1="535.2" y1="873.5" x2="591.8" y2="873.5" stroke="#231815" stroke-width="1.75" stroke-linecap="square" />
<line x1="535.2" y1="899.7" x2="591.8" y2="899.7" stroke="#231815" stroke-width="1.75" stroke-linecap="square" />
<line x1="495.7" y1="873.5" x2="495.7" y2="899.7" stroke="#231815" stroke-width="1.75" stroke-linecap="square" />
<line x1="503.5" y1="873.5" x2="503.5" y2="899.7" stroke="#231815" stroke-width="1.75" stroke-linecap="square" />
<line x1="531.8" y1="873.5" x2="531.8" y2="899.7" stroke="#231815" stroke-width="1.75" stroke-linecap="square" />
<line x1="535.2" y1="873.5" x2="535.2" y2="899.7" stroke="#231815" stroke-width="1.75" stroke-linecap="square" />
<line x1="563.2" y1="873.5" x2="563.2" y2="899.7" stroke="#231815" stroke-width="1.75" stroke-linecap="square" />
<line x1="570.7" y1="873.5" x2="570.7" y2="899.7" stroke="#231815" stroke-width="1.75" stroke-linecap="square" />
<circle cx="517.65" cy="886.60" r="12.90" fill="none" stroke="#231815" stroke-width="1.75"/>
<path d="M516.10,873.5 V885.05 H503.5 M519.20,873.5 V885.05 H531.8 M516.10,899.7 V888.15 H503.5 M519.20,899.7 V888.15 H531.8" fill="none" stroke="#231815" stroke-width="1.4"/>
<circle cx="549.20" cy="886.60" r="12.90" fill="none" stroke="#231815" stroke-width="1.75"/>
<path d="M547.65,873.5 V885.05 H535.2 M550.75,873.5 V885.05 H563.2 M547.65,899.7 V888.15 H535.2 M550.75,899.7 V888.15 H563.2" fill="none" stroke="#231815" stroke-width="1.4"/>
<text x="0" y="0" font-size="14.6" fill="#231815" font-weight="bold" font-family="Liberation Sans" text-rendering="geometricPrecision" stroke="#231815" stroke-width="0.35" transform="translate(478.10 891.80) scale(0.8746 1)">3</text>
<text x="0" y="0" font-size="14.6" fill="#231815" font-weight="bold" font-family="Liberation Sans" text-rendering="geometricPrecision" stroke="#231815" stroke-width="0.35" transform="translate(485.20 891.80) scale(0.8746 1)">5</text>
<text x="0" y="0" font-size="14.6" fill="#231815" font-weight="bold" font-family="Liberation Sans" text-rendering="geometricPrecision" stroke="#231815" stroke-width="0.35" transform="translate(574.30 891.80) scale(0.8623 1)">2</text>
<text x="0" y="0" font-size="14.6" fill="#231815" font-weight="bold" font-family="Liberation Sans" text-rendering="geometricPrecision" stroke="#231815" stroke-width="0.35" transform="translate(581.30 891.80) scale(0.8623 1)">3</text>
<line x1="194.4" y1="905.5" x2="250" y2="905.5" stroke="#231815" stroke-width="1.75" stroke-linecap="square" />
<line x1="194.4" y1="931.7" x2="250" y2="931.7" stroke="#231815" stroke-width="1.75" stroke-linecap="square" />
<line x1="214.8" y1="905.5" x2="214.8" y2="931.7" stroke="#231815" stroke-width="1.75" stroke-linecap="square" />
<line x1="222.9" y1="905.5" x2="222.9" y2="931.7" stroke="#231815" stroke-width="1.75" stroke-linecap="square" />
<line x1="250" y1="905.5" x2="250" y2="931.7" stroke="#231815" stroke-width="1.75" stroke-linecap="square" />
<circle cx="236.45" cy="918.60" r="12.90" fill="none" stroke="#231815" stroke-width="1.75"/>
<path d="M234.90,905.5 V917.05 H222.9 M238.00,905.5 V917.05 H250.0 M234.90,931.7 V920.15 H222.9 M238.00,931.7 V920.15 H250.0" fill="none" stroke="#231815" stroke-width="1.4"/>
<path d="M0.394,0 H0.25 V-0.53 L0.075,-0.43 V-0.565 Q0.2,-0.63 0.255,-0.716 H0.394 Z" fill="#231815" stroke="#231815" stroke-width="0.35" vector-effect="non-scaling-stroke" transform="translate(197.10 921.60) scale(14.388 18.200)"/>
<text x="0" y="0" font-size="18.2" fill="#231815" font-weight="bold" font-family="Liberation Sans" text-rendering="geometricPrecision" stroke="#231815" stroke-width="0.35" transform="translate(205.10 921.60) scale(0.7906 1)">2</text>
<line x1="474.5" y1="905.5" x2="531.8" y2="905.5" stroke="#231815" stroke-width="1.75" stroke-linecap="square" />
<line x1="474.5" y1="931.7" x2="531.8" y2="931.7" stroke="#231815" stroke-width="1.75" stroke-linecap="square" />
<line x1="535.2" y1="905.5" x2="591.8" y2="905.5" stroke="#231815" stroke-width="1.75" stroke-linecap="square" />
<line x1="535.2" y1="931.7" x2="591.8" y2="931.7" stroke="#231815" stroke-width="1.75" stroke-linecap="square" />
<line x1="495.7" y1="905.5" x2="495.7" y2="931.7" stroke="#231815" stroke-width="1.75" stroke-linecap="square" />
<line x1="503.5" y1="905.5" x2="503.5" y2="931.7" stroke="#231815" stroke-width="1.75" stroke-linecap="square" />
<line x1="531.8" y1="905.5" x2="531.8" y2="931.7" stroke="#231815" stroke-width="1.75" stroke-linecap="square" />
<line x1="535.2" y1="905.5" x2="535.2" y2="931.7" stroke="#231815" stroke-width="1.75" stroke-linecap="square" />
<line x1="563.2" y1="905.5" x2="563.2" y2="931.7" stroke="#231815" stroke-width="1.75" stroke-linecap="square" />
<line x1="570.7" y1="905.5" x2="570.7" y2="931.7" stroke="#231815" stroke-width="1.75" stroke-linecap="square" />
<circle cx="517.65" cy="918.60" r="12.90" fill="none" stroke="#231815" stroke-width="1.75"/>
<path d="M516.10,905.5 V917.05 H503.5 M519.20,905.5 V917.05 H531.8 M516.10,931.7 V920.15 H503.5 M519.20,931.7 V920.15 H531.8" fill="none" stroke="#231815" stroke-width="1.4"/>
<circle cx="549.20" cy="918.60" r="12.90" fill="none" stroke="#231815" stroke-width="1.75"/>
<path d="M547.65,905.5 V917.05 H535.2 M550.75,905.5 V917.05 H563.2 M547.65,931.7 V920.15 H535.2 M550.75,931.7 V920.15 H563.2" fill="none" stroke="#231815" stroke-width="1.4"/>
<text x="0" y="0" font-size="14.6" fill="#231815" font-weight="bold" font-family="Liberation Sans" text-rendering="geometricPrecision" stroke="#231815" stroke-width="0.35" transform="translate(478.10 923.80) scale(0.8746 1)">3</text>
<text x="0" y="0" font-size="14.6" fill="#231815" font-weight="bold" font-family="Liberation Sans" text-rendering="geometricPrecision" stroke="#231815" stroke-width="0.35" transform="translate(485.20 923.80) scale(0.8746 1)">6</text>
<text x="0" y="0" font-size="14.6" fill="#231815" font-weight="bold" font-family="Liberation Sans" text-rendering="geometricPrecision" stroke="#231815" stroke-width="0.35" transform="translate(574.30 921.60) scale(0.8623 1)">2</text>
<text x="0" y="0" font-size="14.6" fill="#231815" font-weight="bold" font-family="Liberation Sans" text-rendering="geometricPrecision" stroke="#231815" stroke-width="0.35" transform="translate(581.30 921.60) scale(0.8623 1)">4</text>
<line x1="444.8" y1="562.2" x2="458.6" y2="562.2" stroke="#231815" stroke-width="1.6" stroke-linecap="square" />
<line x1="451.7" y1="555.5" x2="451.7" y2="568.8" stroke="#231815" stroke-width="1.6" stroke-linecap="square" />
<line x1="445.2" y1="612.2" x2="458" y2="612.2" stroke="#231815" stroke-width="1.6" stroke-linecap="square" />
<text x="348.8" y="625.0" font-size="17.5" fill="#231815" text-anchor="start" font-weight="normal" font-family="Liberation Sans" text-rendering="geometricPrecision" stroke="#231815" stroke-width="0.1">控制输出</text>
<text x="0" y="0" font-size="17.40" fill="#231815" font-family="Liberation Sans" text-rendering="geometricPrecision" stroke="#231815" stroke-width="0.25" transform="translate(350.93 643.60) scale(0.7663 1)">4</text>
<text x="0" y="0" font-size="17.40" fill="#231815" font-family="Liberation Sans" text-rendering="geometricPrecision" stroke="#231815" stroke-width="0.25" transform="translate(357.50 643.60) scale(1.1494 1)">～</text>
<text x="0" y="0" font-size="17.40" fill="#231815" font-family="Liberation Sans" text-rendering="geometricPrecision" stroke="#231815" stroke-width="0.25" transform="translate(377.41 643.60) scale(0.9120 1)">2</text>
<text x="0" y="0" font-size="17.40" fill="#231815" font-family="Liberation Sans" text-rendering="geometricPrecision" stroke="#231815" stroke-width="0.25" transform="translate(386.16 643.60) scale(0.9219 1)">0</text>
<text x="0" y="0" font-size="17.40" fill="#231815" font-family="Liberation Sans" text-rendering="geometricPrecision" stroke="#231815" stroke-width="0.25" transform="translate(394.54 643.60) scale(0.7061 1)">m</text>
<text x="0" y="0" font-size="17.40" fill="#231815" font-family="Liberation Sans" text-rendering="geometricPrecision" stroke="#231815" stroke-width="0.25" transform="translate(404.80 643.60) scale(0.7837 1)">A</text>
<line x1="601.8" y1="788.2" x2="615.5" y2="788.2" stroke="#231815" stroke-width="1.6" stroke-linecap="square" />
<line x1="608.6" y1="781.6" x2="608.6" y2="794.8" stroke="#231815" stroke-width="1.6" stroke-linecap="square" />
<line x1="601.8" y1="915.5" x2="615.5" y2="915.5" stroke="#231815" stroke-width="1.6" stroke-linecap="square" />
<text x="629.8" y="823.0" font-size="17.6" fill="#231815" text-anchor="start" font-weight="normal" font-family="Liberation Sans" text-rendering="geometricPrecision" stroke="#231815" stroke-width="0.1">外给定</text>
<text x="0" y="0" font-size="17.00" fill="#231815" font-family="Liberation Sans" text-rendering="geometricPrecision" stroke="#231815" stroke-width="0.25" transform="translate(626.98 842.00) scale(0.9343 1)">4</text>
<text x="0" y="0" font-size="17.00" fill="#231815" font-family="Liberation Sans" text-rendering="geometricPrecision" stroke="#231815" stroke-width="0.25" transform="translate(635.26 842.00) scale(1.1046 1)">～</text>
<text x="0" y="0" font-size="17.00" fill="#231815" font-family="Liberation Sans" text-rendering="geometricPrecision" stroke="#231815" stroke-width="0.25" transform="translate(653.91 842.00) scale(0.9335 1)">2</text>
<text x="0" y="0" font-size="17.00" fill="#231815" font-family="Liberation Sans" text-rendering="geometricPrecision" stroke="#231815" stroke-width="0.25" transform="translate(662.59 842.00) scale(0.8946 1)">0</text>
<text x="0" y="0" font-size="17.00" fill="#231815" font-family="Liberation Sans" text-rendering="geometricPrecision" stroke="#231815" stroke-width="0.25" transform="translate(670.89 842.00) scale(0.6807 1)">m</text>
<text x="0" y="0" font-size="17.00" fill="#231815" font-family="Liberation Sans" text-rendering="geometricPrecision" stroke="#231815" stroke-width="0.25" transform="translate(680.20 842.00) scale(0.8289 1)">A</text>
<text x="0" y="0" font-size="12.90" fill="#231815" font-family="Liberation Sans" text-rendering="geometricPrecision" stroke="#231815" stroke-width="0.2" transform="translate(533.66 250.40) scale(0.9272 1)">4</text>
<text x="0" y="0" font-size="12.90" fill="#231815" font-family="Liberation Sans" text-rendering="geometricPrecision" stroke="#231815" stroke-width="0.2" transform="translate(539.93 250.40) scale(1.3523 1)">～</text>
<text x="0" y="0" font-size="12.90" fill="#231815" font-family="Liberation Sans" text-rendering="geometricPrecision" stroke="#231815" stroke-width="0.2" transform="translate(557.04 250.40) scale(1.0280 1)">2</text>
<text x="0" y="0" font-size="12.90" fill="#231815" font-family="Liberation Sans" text-rendering="geometricPrecision" stroke="#231815" stroke-width="0.2" transform="translate(564.06 250.40) scale(1.0497 1)">0</text>
<text x="0" y="0" font-size="12.90" fill="#231815" font-family="Liberation Sans" text-rendering="geometricPrecision" stroke="#231815" stroke-width="0.2" transform="translate(571.58 250.40) scale(0.7973 1)">m</text>
<text x="0" y="0" font-size="12.90" fill="#231815" font-family="Liberation Sans" text-rendering="geometricPrecision" stroke="#231815" stroke-width="0.2" transform="translate(580.80 250.40) scale(1.0336 1)">A</text>
<text x="531.4" y="268.2" font-size="16.0" fill="#231815" text-anchor="start" font-weight="normal" font-family="Liberation Sans" text-rendering="geometricPrecision" stroke="#231815" stroke-width="0.1">阀位反馈</text>
<path d="M686,637 L702.7,618.9 H899.1 V747.9 L889.4,760" fill="none" stroke="#231815" stroke-width="2.0" />
<path d="M885.8,636.6 L899.1,620.6" fill="none" stroke="#231815" stroke-width="2.0" />
<rect x="683.3" y="635.2" width="207.8" height="132.1" rx="10" fill="#fdfbfc" stroke="#231815" stroke-width="2.0" />
<path d="M683.3,665 H694.2 V676.4 H882.1 V665 H891.1" fill="none" stroke="#231815" stroke-width="2.0" />
<path d="M683.3,735.8 H694.2 V724.8 H882.1 V735.8 H891.1" fill="none" stroke="#231815" stroke-width="2.0" />
<path d="M683.3,682.4 H709.4 Q712.4,682.4 712.4,685.4 V715.8 Q712.4,718.8 709.4,718.8 H683.3" fill="none" stroke="#231815" stroke-width="2.0" />
<rect x="717.3" y="682.4" width="141.8" height="36.4" rx="3" fill="none" stroke="#231815" stroke-width="2.0" />
<path d="M891.1,682.4 H867 Q864,682.4 864,685.4 V715.8 Q864,718.8 867,718.8 H891.1" fill="none" stroke="#231815" stroke-width="2.0" />
<text x="765.2" y="707.9" font-size="20.3" fill="#231815" text-anchor="start" font-weight="normal" font-family="Liberation Serif" text-rendering="geometricPrecision" >PLC</text>
<path d="M686.5,637.5 H697.5 V648.5 H686.5 Z" fill="none" stroke="#231815" stroke-width="0.8" />
<circle cx="692.0" cy="643.0" r="2" fill="none" stroke="#231815" stroke-width="0.8"/>
<line x1="692.0" y1="637.5" x2="692.0" y2="648.5" stroke="#231815" stroke-width="0.6" stroke-linecap="square" />
<line x1="686.5" y1="643.0" x2="697.5" y2="643.0" stroke="#231815" stroke-width="0.6" stroke-linecap="square" />
<path d="M877.5,755.5 H888.5 V766.5 H877.5 Z" fill="none" stroke="#231815" stroke-width="0.8" />
<circle cx="883.0" cy="761.0" r="2" fill="none" stroke="#231815" stroke-width="0.8"/>
<line x1="883.0" y1="755.5" x2="883.0" y2="766.5" stroke="#231815" stroke-width="0.6" stroke-linecap="square" />
<line x1="877.5" y1="761.0" x2="888.5" y2="761.0" stroke="#231815" stroke-width="0.6" stroke-linecap="square" />
<path d="M402,211 H314.5 V605.2 H513" fill="none" stroke="#00a0e9" stroke-width="2.8" />
<path d="M402,227.8 H332.5 V573 H512" fill="none" stroke="#e4007f" stroke-width="2.8" />
<path d="M483,215 H630.3 V764.9 H556.4" fill="none" stroke="#00a0e9" stroke-width="2.8" />
<path d="M484,227.8 H615.5 V637.2 H556.2" fill="none" stroke="#e4007f" stroke-width="2.8" />
<path d="M554.5,797.8 H724.5 V755.5" fill="none" stroke="#e4007f" stroke-width="2.8" />
<path d="M554.5,925.3 H748.4 V756.5" fill="none" stroke="#00a0e9" stroke-width="2.8" />
<text x="22.7" y="19.5" font-size="21.37" fill="#231815" text-anchor="start" font-weight="normal" font-family="Liberation Sans" text-rendering="geometricPrecision" stroke="#231815" stroke-width="0.1">电源端</text>
<text x="0" y="0" font-size="21.60" fill="#e60012" font-family="Liberation Sans" text-rendering="geometricPrecision" transform="translate(24.21 47.80) scale(0.9785 1)">L</text>
<text x="0" y="0" font-size="21.60" fill="#231815" font-family="Liberation Sans" text-rendering="geometricPrecision" transform="translate(24.57 94.70) scale(0.7688 1)">N</text>
<line x1="43.6" y1="42.4" x2="981.8" y2="42.4" stroke="#e60012" stroke-width="2.7" stroke-linecap="square" />
<path d="M131.9,42.4 V892.9 H231" fill="none" stroke="#e60012" stroke-width="2.7" />
<circle cx="132.3" cy="42.8" r="6.6" fill="#e60012" stroke="none" stroke-width="0"/>
<line x1="43.6" y1="86.8" x2="981.8" y2="86.8" stroke="#231815" stroke-width="2.7" stroke-linecap="square" />
<path d="M94.2,86.8 V925.8 H230.5" fill="none" stroke="#231815" stroke-width="2.7" />
<circle cx="95.0" cy="86.8" r="6.8" fill="#231815" stroke="none" stroke-width="0"/>
<text x="410.6" y="142.6" font-size="21.4" fill="#231815" text-anchor="start" font-weight="normal" font-family="Liberation Sans" text-rendering="geometricPrecision" stroke="#231815" stroke-width="0.1">调节阀</text>
<rect x="426" y="158.2" width="32.5" height="6.3" rx="0" fill="#fdfbfc" stroke="#231815" stroke-width="1.5" />
<rect x="434.5" y="164.5" width="16.2" height="9.7" rx="0" fill="#fdfbfc" stroke="#231815" stroke-width="1.5" />
<rect x="435.5" y="174.2" width="14.2" height="7.6" rx="0" fill="#fdfbfc" stroke="#231815" stroke-width="1.5" />
<path d="M411.5,181.8 H473 Q477.5,181.8 478.2,186 L484.3,236.3 H400.3 L406.7,186 Q407.4,181.8 411.5,181.8 Z" fill="#fdfbfc" stroke="#231815" stroke-width="1.5" />
<path d="M399.2,236.3 H485.4 M399.6,239.3 H485" fill="none" stroke="#231815" stroke-width="1.5" />
<path d="M401.2,239.5 L405,253.4 H480 L483.6,239.5" fill="#fdfbfc" stroke="#231815" stroke-width="1.5" />
<polygon points="410,253.6 431,253.6 431,257.3 412.7,257.3" fill="none" stroke="#231815" stroke-width="1.5" />
<polygon points="453.8,253.6 474.6,253.6 471.8,257.3 453.8,257.3" fill="none" stroke="#231815" stroke-width="1.5" />
<rect x="413.3" y="257.3" width="10.6" height="111.8" rx="0" fill="none" stroke="#231815" stroke-width="1.5" />
<rect x="461.3" y="257.3" width="11.1" height="111.8" rx="0" fill="none" stroke="#231815" stroke-width="1.5" />
<line x1="457.0" y1="257.3" x2="457.0" y2="318.5" stroke="#231815" stroke-width="1.0" stroke-linecap="square" />
<line x1="458.6" y1="257.3" x2="458.6" y2="318.5" stroke="#231815" stroke-width="1.0" stroke-linecap="square" />
<path d="M452.4,316.2 Q455,315.5 456.3,317 Q457.5,318.6 458.8,318" fill="none" stroke="#231815" stroke-width="1.0" />
<polygon points="431.2,253.6 454.1,253.6 452.7,290.9 433.2,290.9" fill="none" stroke="#231815" stroke-width="1.5" />
<rect x="435.2" y="291.1" width="13.9" height="24.5" rx="0" fill="none" stroke="#231815" stroke-width="1.5" />
<rect x="432.8" y="315.6" width="19.5" height="12.2" rx="0" fill="none" stroke="#231815" stroke-width="1.5" />
<rect x="431.8" y="328.3" width="22.0" height="10.0" rx="0" fill="none" stroke="#231815" stroke-width="1.5" />
<path d="M440,338.3 V360.6 M447.4,338.3 V360.6" fill="none" stroke="#231815" stroke-width="1.5" />
<path d="M441.5,339 V344 M445.9,339 V344" fill="none" stroke="#231815" stroke-width="0.9" />
<rect x="434" y="360.6" width="18.2" height="3.3" rx="0" fill="none" stroke="#231815" stroke-width="1.5" />
<rect x="428.3" y="363.9" width="28.9" height="5.0" rx="0" fill="none" stroke="#231815" stroke-width="1.5" />
<rect x="411.7" y="369.4" width="61.6" height="8.4" rx="2.5" fill="none" stroke="#231815" stroke-width="1.5" />
<path d="M426.8,377.8 V391.7 M458.2,377.8 V391.7" fill="none" stroke="#231815" stroke-width="1.5" />
<rect x="412.9" y="377.4" width="12.700000000000045" height="4.2" rx="0" fill="none" stroke="#231815" stroke-width="1.2" />
<line x1="415.85" y1="377.4" x2="415.85" y2="381.6" stroke="#231815" stroke-width="1.0" stroke-linecap="butt" />
<line x1="422.65" y1="377.4" x2="422.65" y2="381.6" stroke="#231815" stroke-width="1.0" stroke-linecap="butt" />
<rect x="415.55" y="381.6" width="7.4" height="2.0" rx="0" fill="none" stroke="#231815" stroke-width="1.1" />
<rect x="459.4" y="377.4" width="12.700000000000045" height="4.2" rx="0" fill="none" stroke="#231815" stroke-width="1.2" />
<line x1="462.35" y1="377.4" x2="462.35" y2="381.6" stroke="#231815" stroke-width="1.0" stroke-linecap="butt" />
<line x1="469.15" y1="377.4" x2="469.15" y2="381.6" stroke="#231815" stroke-width="1.0" stroke-linecap="butt" />
<rect x="462.05" y="381.6" width="7.4" height="2.0" rx="0" fill="none" stroke="#231815" stroke-width="1.1" />
<rect x="406.85" y="384.4" width="6.0" height="2.2" fill="#6b6566" stroke="#231815" stroke-width="1.1"/>
<rect x="403.5" y="386.6" width="12.699999999999989" height="5.1" rx="0" fill="none" stroke="#231815" stroke-width="1.2" />
<line x1="406.85" y1="386.6" x2="406.85" y2="391.7" stroke="#231815" stroke-width="1.0" stroke-linecap="butt" />
<line x1="412.85" y1="386.6" x2="412.85" y2="391.7" stroke="#231815" stroke-width="1.0" stroke-linecap="butt" />
<rect x="473.25" y="384.4" width="6.0" height="2.2" fill="#6b6566" stroke="#231815" stroke-width="1.1"/>
<rect x="469.9" y="386.6" width="12.700000000000045" height="5.1" rx="0" fill="none" stroke="#231815" stroke-width="1.2" />
<line x1="473.25" y1="386.6" x2="473.25" y2="391.7" stroke="#231815" stroke-width="1.0" stroke-linecap="butt" />
<line x1="479.25" y1="386.6" x2="479.25" y2="391.7" stroke="#231815" stroke-width="1.0" stroke-linecap="butt" />
<rect x="399.9" y="391.7" width="86.3" height="10.8" rx="0" fill="none" stroke="#231815" stroke-width="1.5" />
<path d="M399.9,404.7 H485.7 L486.5,414.4 H399.9 Z" fill="none" stroke="#231815" stroke-width="1.5" />
<path d="M375.7,401.1 H384.1 V490 H375.7 V476.6 L374.4,474 V416 L375.7,413 Z" fill="none" stroke="#231815" stroke-width="1.5" />
<path d="M503.3,401.9 H512.2 V413 L513.1,416 V474 L512,477 V490 H503.3 Z" fill="none" stroke="#231815" stroke-width="1.5" />
<path d="M399.9,414.4 Q400.5,416.8 402.3,417.6 L406.8,419.2 Q409.8,420.5 409.3,423 L408.4,433.6 Q407.6,437.2 403.2,435.4 L384.1,426.5" fill="none" stroke="#231815" stroke-width="1.5" />
<path d="M405.7,420 L402.6,434.8" fill="none" stroke="#231815" stroke-width="1.1" />
<path d="M384.1,466.1 Q386.2,464.8 388.8,465.4 L423.3,477.8 Q427.8,480 427.8,483.5 V489.8 H459.2 V480.5 Q459.6,477.6 462.2,477 L496.6,462.1 Q500.8,462.2 503.3,466.1" fill="none" stroke="#231815" stroke-width="1.5" />
<path d="M462.2,477 Q466.3,472.3 469.2,467.8 Q470.8,463.8 470.5,457 Q471.3,451.8 475.2,451.3 Q478.8,451 482,453.2 L498.2,462.1" fill="none" stroke="#231815" stroke-width="1.5" />
<path d="M470.7,459.2 Q478.5,458.8 481.8,454.6" fill="none" stroke="#231815" stroke-width="1.1" />
<path d="M486.5,414.4 Q487,416.6 485,417.9 Q483.8,419.3 485.2,420.3 L497.8,425.7 Q501.8,426.5 503.3,423.3" fill="none" stroke="#231815" stroke-width="1.5" />
<line x1="496.5" y1="204.3" x2="509.5" y2="204.3" stroke="#231815" stroke-width="1.6" stroke-linecap="square" />
<line x1="496.5" y1="239.8" x2="509.5" y2="239.8" stroke="#231815" stroke-width="1.6" stroke-linecap="square" />
<line x1="503" y1="233.3" x2="503" y2="246.3" stroke="#231815" stroke-width="1.6" stroke-linecap="square" />
<line x1="682" y1="327.9" x2="702.8" y2="327.9" stroke="#808080" stroke-width="1.6" stroke-linecap="butt" />
<line x1="682" y1="576.4" x2="702.8" y2="576.4" stroke="#808080" stroke-width="1.6" stroke-linecap="butt" />
<line x1="724.3" y1="327.9" x2="745.0999999999999" y2="327.9" stroke="#808080" stroke-width="1.6" stroke-linecap="butt" />
<line x1="724.3" y1="576.4" x2="745.0999999999999" y2="576.4" stroke="#808080" stroke-width="1.6" stroke-linecap="butt" />
<line x1="766.6" y1="327.9" x2="787.4" y2="327.9" stroke="#808080" stroke-width="1.6" stroke-linecap="butt" />
<line x1="766.6" y1="576.4" x2="787.4" y2="576.4" stroke="#808080" stroke-width="1.6" stroke-linecap="butt" />
<line x1="808.9" y1="327.9" x2="829.6999999999999" y2="327.9" stroke="#808080" stroke-width="1.6" stroke-linecap="butt" />
<line x1="808.9" y1="576.4" x2="829.6999999999999" y2="576.4" stroke="#808080" stroke-width="1.6" stroke-linecap="butt" />
<line x1="851.2" y1="327.9" x2="872.0" y2="327.9" stroke="#808080" stroke-width="1.6" stroke-linecap="butt" />
<line x1="851.2" y1="576.4" x2="872.0" y2="576.4" stroke="#808080" stroke-width="1.6" stroke-linecap="butt" />
<line x1="893.5" y1="327.9" x2="914.3" y2="327.9" stroke="#808080" stroke-width="1.6" stroke-linecap="butt" />
<line x1="893.5" y1="576.4" x2="914.3" y2="576.4" stroke="#808080" stroke-width="1.6" stroke-linecap="butt" />
<line x1="650.4" y1="359.4" x2="650.4" y2="379.4" stroke="#808080" stroke-width="1.6" stroke-linecap="butt" />
<line x1="945.8" y1="359.4" x2="945.8" y2="379.4" stroke="#808080" stroke-width="1.6" stroke-linecap="butt" />
<line x1="650.4" y1="400.8" x2="650.4" y2="420.8" stroke="#808080" stroke-width="1.6" stroke-linecap="butt" />
<line x1="945.8" y1="400.8" x2="945.8" y2="420.8" stroke="#808080" stroke-width="1.6" stroke-linecap="butt" />
<line x1="650.4" y1="442.2" x2="650.4" y2="462.2" stroke="#808080" stroke-width="1.6" stroke-linecap="butt" />
<line x1="945.8" y1="442.2" x2="945.8" y2="462.2" stroke="#808080" stroke-width="1.6" stroke-linecap="butt" />
<line x1="650.4" y1="483.6" x2="650.4" y2="503.6" stroke="#808080" stroke-width="1.6" stroke-linecap="butt" />
<line x1="945.8" y1="483.6" x2="945.8" y2="503.6" stroke="#808080" stroke-width="1.6" stroke-linecap="butt" />
<line x1="650.4" y1="525.0" x2="650.4" y2="545.0" stroke="#808080" stroke-width="1.6" stroke-linecap="butt" />
<line x1="945.8" y1="525.0" x2="945.8" y2="545.0" stroke="#808080" stroke-width="1.6" stroke-linecap="butt" />
<path d="M650.4,338.6 V327.9 H661" fill="none" stroke="#808080" stroke-width="1.6" />
<path d="M935.4,327.9 H945.8 V338.6" fill="none" stroke="#808080" stroke-width="1.6" />
<path d="M650.4,565.6 V576.4 H661" fill="none" stroke="#808080" stroke-width="1.6" />
<path d="M935.4,576.4 H945.8 V565.6" fill="none" stroke="#808080" stroke-width="1.6" />
<text x="675.3" y="357.3" font-size="17.7" fill="#231815" text-anchor="start" font-weight="normal" font-family="Liberation Sans" text-rendering="geometricPrecision" stroke="#231815" stroke-width="0.1">阀位反馈输入</text>
<text x="817.7" y="359.1" font-size="17.86" fill="#231815" text-anchor="start" font-weight="normal" font-family="Liberation Sans" text-rendering="geometricPrecision" stroke="#231815" stroke-width="0.1">控制输出</text>
<text x="675.4" y="478.7" font-size="17.95" fill="#231815" text-anchor="start" font-weight="normal" font-family="Liberation Sans" text-rendering="geometricPrecision" stroke="#231815" stroke-width="0.1">外给定输入</text>
<text x="816.5" y="478.5" font-size="17.85" fill="#231815" text-anchor="start" font-weight="normal" font-family="Liberation Sans" text-rendering="geometricPrecision" stroke="#231815" stroke-width="0.1">工作电源</text>
<line x1="674.2" y1="373.8" x2="730.8" y2="373.8" stroke="#231815" stroke-width="1.75" stroke-linecap="square" />
<line x1="674.2" y1="400.6" x2="730.8" y2="400.6" stroke="#231815" stroke-width="1.75" stroke-linecap="square" />
<line x1="695.8" y1="373.8" x2="695.8" y2="400.6" stroke="#231815" stroke-width="1.75" stroke-linecap="square" />
<line x1="703.2" y1="373.8" x2="703.2" y2="400.6" stroke="#231815" stroke-width="1.75" stroke-linecap="square" />
<line x1="730.8" y1="373.8" x2="730.8" y2="400.6" stroke="#231815" stroke-width="1.75" stroke-linecap="square" />
<circle cx="717.00" cy="387.20" r="13.20" fill="none" stroke="#231815" stroke-width="1.75"/>
<path d="M715.45,373.8 V385.65 H703.2 M718.55,373.8 V385.65 H730.8 M715.45,400.6 V388.75 H703.2 M718.55,400.6 V388.75 H730.8" fill="none" stroke="#231815" stroke-width="1.4"/>
<line x1="730.8" y1="386.9" x2="759.5" y2="386.9" stroke="#231815" stroke-width="1.4" stroke-linecap="square" />
<circle cx="761.9" cy="386.9" r="2.5" fill="#fdfbfc" stroke="#231815" stroke-width="1.4"/>
<path d="M0.394,0 H0.25 V-0.53 L0.075,-0.43 V-0.565 Q0.2,-0.63 0.255,-0.716 H0.394 Z" fill="#231815" stroke="#231815" stroke-width="0.35" vector-effect="non-scaling-stroke" transform="translate(677.80 392.50) scale(12.770 14.600)"/>
<text x="0" y="0" font-size="14.6" fill="#231815" font-weight="bold" font-family="Liberation Sans" text-rendering="geometricPrecision" stroke="#231815" stroke-width="0.35" transform="translate(684.90 392.50) scale(0.8746 1)">5</text>
<line x1="674.2" y1="405.7" x2="730.8" y2="405.7" stroke="#231815" stroke-width="1.75" stroke-linecap="square" />
<line x1="674.2" y1="432.6" x2="730.8" y2="432.6" stroke="#231815" stroke-width="1.75" stroke-linecap="square" />
<line x1="695.8" y1="405.7" x2="695.8" y2="432.6" stroke="#231815" stroke-width="1.75" stroke-linecap="square" />
<line x1="703.2" y1="405.7" x2="703.2" y2="432.6" stroke="#231815" stroke-width="1.75" stroke-linecap="square" />
<line x1="730.8" y1="405.7" x2="730.8" y2="432.6" stroke="#231815" stroke-width="1.75" stroke-linecap="square" />
<circle cx="717.00" cy="419.15" r="13.25" fill="none" stroke="#231815" stroke-width="1.75"/>
<path d="M715.45,405.7 V417.60 H703.2 M718.55,405.7 V417.60 H730.8 M715.45,432.6 V420.70 H703.2 M718.55,432.6 V420.70 H730.8" fill="none" stroke="#231815" stroke-width="1.4"/>
<line x1="730.8" y1="417.6" x2="759.5" y2="417.6" stroke="#231815" stroke-width="1.4" stroke-linecap="square" />
<circle cx="761.9" cy="417.6" r="2.5" fill="#fdfbfc" stroke="#231815" stroke-width="1.4"/>
<path d="M0.394,0 H0.25 V-0.53 L0.075,-0.43 V-0.565 Q0.2,-0.63 0.255,-0.716 H0.394 Z" fill="#231815" stroke="#231815" stroke-width="0.35" vector-effect="non-scaling-stroke" transform="translate(677.80 427.95) scale(12.770 14.600)"/>
<text x="0" y="0" font-size="14.6" fill="#231815" font-weight="bold" font-family="Liberation Sans" text-rendering="geometricPrecision" stroke="#231815" stroke-width="0.35" transform="translate(684.90 427.95) scale(0.8746 1)">9</text>
<line x1="674.2" y1="490.4" x2="730.8" y2="490.4" stroke="#231815" stroke-width="1.75" stroke-linecap="square" />
<line x1="674.2" y1="517.2" x2="730.8" y2="517.2" stroke="#231815" stroke-width="1.75" stroke-linecap="square" />
<line x1="695.8" y1="490.4" x2="695.8" y2="517.2" stroke="#231815" stroke-width="1.75" stroke-linecap="square" />
<line x1="703.2" y1="490.4" x2="703.2" y2="517.2" stroke="#231815" stroke-width="1.75" stroke-linecap="square" />
<line x1="730.8" y1="490.4" x2="730.8" y2="517.2" stroke="#231815" stroke-width="1.75" stroke-linecap="square" />
<circle cx="717.00" cy="503.80" r="13.20" fill="none" stroke="#231815" stroke-width="1.75"/>
<path d="M715.45,490.4 V502.25 H703.2 M718.55,490.4 V502.25 H730.8 M715.45,517.2 V505.35 H703.2 M718.55,517.2 V505.35 H730.8" fill="none" stroke="#231815" stroke-width="1.4"/>
<line x1="730.8" y1="503.8" x2="759.5" y2="503.8" stroke="#231815" stroke-width="1.4" stroke-linecap="square" />
<circle cx="761.9" cy="503.8" r="2.5" fill="#fdfbfc" stroke="#231815" stroke-width="1.4"/>
<text x="0" y="0" font-size="14.6" fill="#231815" font-weight="bold" font-family="Liberation Sans" text-rendering="geometricPrecision" stroke="#231815" stroke-width="0.35" transform="translate(677.10 509.40) scale(0.8746 1)">2</text>
<text x="0" y="0" font-size="14.6" fill="#231815" font-weight="bold" font-family="Liberation Sans" text-rendering="geometricPrecision" stroke="#231815" stroke-width="0.35" transform="translate(684.20 509.40) scale(0.8746 1)">0</text>
<line x1="674.2" y1="522.2" x2="730.8" y2="522.2" stroke="#231815" stroke-width="1.75" stroke-linecap="square" />
<line x1="674.2" y1="549.5" x2="730.8" y2="549.5" stroke="#231815" stroke-width="1.75" stroke-linecap="square" />
<line x1="695.8" y1="522.2" x2="695.8" y2="549.5" stroke="#231815" stroke-width="1.75" stroke-linecap="square" />
<line x1="703.2" y1="522.2" x2="703.2" y2="549.5" stroke="#231815" stroke-width="1.75" stroke-linecap="square" />
<line x1="730.8" y1="522.2" x2="730.8" y2="549.5" stroke="#231815" stroke-width="1.75" stroke-linecap="square" />
<circle cx="717.00" cy="535.85" r="13.45" fill="none" stroke="#231815" stroke-width="1.75"/>
<path d="M715.45,522.2 V534.30 H703.2 M718.55,522.2 V534.30 H730.8 M715.45,549.5 V537.40 H703.2 M718.55,549.5 V537.40 H730.8" fill="none" stroke="#231815" stroke-width="1.4"/>
<line x1="730.8" y1="534.5" x2="759.5" y2="534.5" stroke="#231815" stroke-width="1.4" stroke-linecap="square" />
<circle cx="761.9" cy="534.5" r="2.5" fill="#fdfbfc" stroke="#231815" stroke-width="1.4"/>
<text x="0" y="0" font-size="14.6" fill="#231815" font-weight="bold" font-family="Liberation Sans" text-rendering="geometricPrecision" stroke="#231815" stroke-width="0.35" transform="translate(677.10 544.75) scale(0.8746 1)">2</text>
<text x="0" y="0" font-size="14.6" fill="#231815" font-weight="bold" font-family="Liberation Sans" text-rendering="geometricPrecision" stroke="#231815" stroke-width="0.35" transform="translate(684.20 544.75) scale(0.8746 1)">4</text>
<line x1="817.0" y1="374.5" x2="869.4" y2="374.5" stroke="#231815" stroke-width="1.75" stroke-linecap="square" />
<line x1="817.0" y1="399.4" x2="869.4" y2="399.4" stroke="#231815" stroke-width="1.75" stroke-linecap="square" />
<line x1="836.5" y1="374.5" x2="836.5" y2="399.4" stroke="#231815" stroke-width="1.75" stroke-linecap="square" />
<line x1="843.8" y1="374.5" x2="843.8" y2="399.4" stroke="#231815" stroke-width="1.75" stroke-linecap="square" />
<line x1="869.4" y1="374.5" x2="869.4" y2="399.4" stroke="#231815" stroke-width="1.75" stroke-linecap="square" />
<circle cx="856.60" cy="386.95" r="12.25" fill="none" stroke="#231815" stroke-width="1.75"/>
<path d="M855.05,374.5 V385.40 H843.8 M858.15,374.5 V385.40 H869.4 M855.05,399.4 V388.50 H843.8 M858.15,399.4 V388.50 H869.4" fill="none" stroke="#231815" stroke-width="1.4"/>
<line x1="869.4" y1="386.6" x2="896.4" y2="386.6" stroke="#231815" stroke-width="1.4" stroke-linecap="square" />
<circle cx="898.7" cy="386.6" r="2.5" fill="#fdfbfc" stroke="#231815" stroke-width="1.4"/>
<text x="0" y="0" font-size="14.6" fill="#231815" font-weight="bold" font-family="Liberation Sans" text-rendering="geometricPrecision" stroke="#231815" stroke-width="0.35" transform="translate(819.50 393.55) scale(0.8746 1)">2</text>
<text x="0" y="0" font-size="14.6" fill="#231815" font-weight="bold" font-family="Liberation Sans" text-rendering="geometricPrecision" stroke="#231815" stroke-width="0.35" transform="translate(826.60 393.55) scale(0.8746 1)">5</text>
<line x1="817.0" y1="404.6" x2="869.4" y2="404.6" stroke="#231815" stroke-width="1.75" stroke-linecap="square" />
<line x1="817.0" y1="429.9" x2="869.4" y2="429.9" stroke="#231815" stroke-width="1.75" stroke-linecap="square" />
<line x1="836.5" y1="404.6" x2="836.5" y2="429.9" stroke="#231815" stroke-width="1.75" stroke-linecap="square" />
<line x1="843.8" y1="404.6" x2="843.8" y2="429.9" stroke="#231815" stroke-width="1.75" stroke-linecap="square" />
<line x1="869.4" y1="404.6" x2="869.4" y2="429.9" stroke="#231815" stroke-width="1.75" stroke-linecap="square" />
<circle cx="856.60" cy="417.25" r="12.45" fill="none" stroke="#231815" stroke-width="1.75"/>
<path d="M855.05,404.6 V415.70 H843.8 M858.15,404.6 V415.70 H869.4 M855.05,429.9 V418.80 H843.8 M858.15,429.9 V418.80 H869.4" fill="none" stroke="#231815" stroke-width="1.4"/>
<line x1="869.4" y1="417.7" x2="896.4" y2="417.7" stroke="#231815" stroke-width="1.4" stroke-linecap="square" />
<circle cx="898.7" cy="417.7" r="2.5" fill="#fdfbfc" stroke="#231815" stroke-width="1.4"/>
<text x="0" y="0" font-size="14.6" fill="#231815" font-weight="bold" font-family="Liberation Sans" text-rendering="geometricPrecision" stroke="#231815" stroke-width="0.35" transform="translate(819.50 423.55) scale(0.8746 1)">2</text>
<text x="0" y="0" font-size="14.6" fill="#231815" font-weight="bold" font-family="Liberation Sans" text-rendering="geometricPrecision" stroke="#231815" stroke-width="0.35" transform="translate(826.60 423.55) scale(0.8746 1)">6</text>
<line x1="818.9" y1="491.9" x2="873.5" y2="491.9" stroke="#231815" stroke-width="1.75" stroke-linecap="square" />
<line x1="818.9" y1="518.3" x2="873.5" y2="518.3" stroke="#231815" stroke-width="1.75" stroke-linecap="square" />
<line x1="840.1" y1="491.9" x2="840.1" y2="518.3" stroke="#231815" stroke-width="1.75" stroke-linecap="square" />
<line x1="847.8" y1="491.9" x2="847.8" y2="518.3" stroke="#231815" stroke-width="1.75" stroke-linecap="square" />
<line x1="873.5" y1="491.9" x2="873.5" y2="518.3" stroke="#231815" stroke-width="1.75" stroke-linecap="square" />
<circle cx="860.65" cy="505.10" r="12.65" fill="none" stroke="#231815" stroke-width="1.75"/>
<path d="M859.10,491.9 V503.55 H847.8 M862.20,491.9 V503.55 H873.5 M859.10,518.3 V506.65 H847.8 M862.20,518.3 V506.65 H873.5" fill="none" stroke="#231815" stroke-width="1.4"/>
<line x1="873.5" y1="506.6" x2="902.9" y2="506.6" stroke="#231815" stroke-width="1.4" stroke-linecap="square" />
<circle cx="905.3" cy="506.6" r="2.5" fill="#fdfbfc" stroke="#231815" stroke-width="1.4"/>
<path d="M0.394,0 H0.25 V-0.53 L0.075,-0.43 V-0.565 Q0.2,-0.63 0.255,-0.716 H0.394 Z" fill="#231815" stroke="#231815" stroke-width="0.35" vector-effect="non-scaling-stroke" transform="translate(822.45 509.90) scale(10.342 14.000)"/>
<path d="M0.394,0 H0.25 V-0.53 L0.075,-0.43 V-0.565 Q0.2,-0.63 0.255,-0.716 H0.394 Z" fill="#231815" stroke="#231815" stroke-width="0.35" vector-effect="non-scaling-stroke" transform="translate(828.20 509.90) scale(10.342 14.000)"/>
<line x1="818.9" y1="523.5" x2="873.5" y2="523.5" stroke="#231815" stroke-width="1.75" stroke-linecap="square" />
<line x1="818.9" y1="550.2" x2="873.5" y2="550.2" stroke="#231815" stroke-width="1.75" stroke-linecap="square" />
<line x1="840.1" y1="523.5" x2="840.1" y2="550.2" stroke="#231815" stroke-width="1.75" stroke-linecap="square" />
<line x1="847.8" y1="523.5" x2="847.8" y2="550.2" stroke="#231815" stroke-width="1.75" stroke-linecap="square" />
<line x1="873.5" y1="523.5" x2="873.5" y2="550.2" stroke="#231815" stroke-width="1.75" stroke-linecap="square" />
<circle cx="860.65" cy="536.85" r="12.65" fill="none" stroke="#231815" stroke-width="1.75"/>
<path d="M859.10,523.5 V535.30 H847.8 M862.20,523.5 V535.30 H873.5 M859.10,550.2 V538.40 H847.8 M862.20,550.2 V538.40 H873.5" fill="none" stroke="#231815" stroke-width="1.4"/>
<line x1="873.5" y1="537.5" x2="902.9" y2="537.5" stroke="#231815" stroke-width="1.4" stroke-linecap="square" />
<circle cx="905.3" cy="537.5" r="2.5" fill="#fdfbfc" stroke="#231815" stroke-width="1.4"/>
<path d="M0.394,0 H0.25 V-0.53 L0.075,-0.43 V-0.565 Q0.2,-0.63 0.255,-0.716 H0.394 Z" fill="#231815" stroke="#231815" stroke-width="0.35" vector-effect="non-scaling-stroke" transform="translate(822.45 542.15) scale(10.342 14.000)"/>
<text x="0" y="0" font-size="14.0" fill="#231815" font-weight="bold" font-family="Liberation Sans" text-rendering="geometricPrecision" stroke="#231815" stroke-width="0.35" transform="translate(828.20 542.15) scale(0.7387 1)">2</text>
<line x1="737.1" y1="380.2" x2="747.1" y2="380.2" stroke="#231815" stroke-width="1.5" stroke-linecap="butt" />
<line x1="742.1" y1="375.59999999999997" x2="742.1" y2="384.8" stroke="#231815" stroke-width="1.5" stroke-linecap="butt" />
<line x1="737.1" y1="496.8" x2="747.1" y2="496.8" stroke="#231815" stroke-width="1.5" stroke-linecap="butt" />
<line x1="742.1" y1="492.2" x2="742.1" y2="501.40000000000003" stroke="#231815" stroke-width="1.5" stroke-linecap="butt" />
<line x1="874.0" y1="380.3" x2="884.0" y2="380.3" stroke="#231815" stroke-width="1.5" stroke-linecap="butt" />
<line x1="879.0" y1="375.7" x2="879.0" y2="384.90000000000003" stroke="#231815" stroke-width="1.5" stroke-linecap="butt" />
<line x1="739.3" y1="429.4" x2="748.5" y2="429.4" stroke="#231815" stroke-width="1.5" stroke-linecap="butt" />
<line x1="739.3" y1="546.2" x2="748.5" y2="546.2" stroke="#231815" stroke-width="1.5" stroke-linecap="butt" />
<line x1="876.3" y1="428.7" x2="885.5" y2="428.7" stroke="#231815" stroke-width="1.5" stroke-linecap="butt" />
<text x="0" y="0" font-size="17.80" fill="#231815" font-family="Liberation Sans" text-rendering="geometricPrecision" stroke="#231815" stroke-width="0.25" transform="translate(758.28 405.80) scale(0.6581 1)">m</text>
<text x="0" y="0" font-size="17.80" fill="#231815" font-family="Liberation Sans" text-rendering="geometricPrecision" stroke="#231815" stroke-width="0.25" transform="translate(768.60 405.80) scale(0.6980 1)">A</text>
<text x="0" y="0" font-size="17.80" fill="#231815" font-family="Liberation Sans" text-rendering="geometricPrecision" stroke="#231815" stroke-width="0.25" transform="translate(779.50 405.80) scale(1.1236 1)">i</text>
<text x="0" y="0" font-size="17.80" fill="#231815" font-family="Liberation Sans" text-rendering="geometricPrecision" stroke="#231815" stroke-width="0.25" transform="translate(785.58 405.80) scale(0.9765 1)">n</text>
<text x="0" y="0" font-size="17.80" fill="#231815" font-family="Liberation Sans" text-rendering="geometricPrecision" stroke="#231815" stroke-width="0.25" transform="translate(758.28 522.40) scale(0.6581 1)">m</text>
<text x="0" y="0" font-size="17.80" fill="#231815" font-family="Liberation Sans" text-rendering="geometricPrecision" stroke="#231815" stroke-width="0.25" transform="translate(768.60 522.40) scale(0.6980 1)">A</text>
<text x="0" y="0" font-size="17.80" fill="#231815" font-family="Liberation Sans" text-rendering="geometricPrecision" stroke="#231815" stroke-width="0.25" transform="translate(779.50 522.40) scale(1.1236 1)">i</text>
<text x="0" y="0" font-size="17.80" fill="#231815" font-family="Liberation Sans" text-rendering="geometricPrecision" stroke="#231815" stroke-width="0.25" transform="translate(785.58 522.40) scale(0.9765 1)">n</text>
<text x="0" y="0" font-size="17.20" fill="#231815" font-family="Liberation Sans" text-rendering="geometricPrecision" stroke="#231815" stroke-width="0.25" transform="translate(883.77 407.30) scale(0.9576 1)">4</text>
<text x="0" y="0" font-size="17.20" fill="#231815" font-family="Liberation Sans" text-rendering="geometricPrecision" stroke="#231815" stroke-width="0.25" transform="translate(891.84 407.30) scale(1.8372 1)">-</text>
<text x="0" y="0" font-size="17.20" fill="#231815" font-family="Liberation Sans" text-rendering="geometricPrecision" stroke="#231815" stroke-width="0.25" transform="translate(901.58 407.30) scale(1.0743 1)">2</text>
<text x="0" y="0" font-size="17.20" fill="#231815" font-family="Liberation Sans" text-rendering="geometricPrecision" stroke="#231815" stroke-width="0.25" transform="translate(910.92 407.30) scale(0.9932 1)">0</text>
<text x="0" y="0" font-size="17.20" fill="#231815" font-family="Liberation Sans" text-rendering="geometricPrecision" stroke="#231815" stroke-width="0.25" transform="translate(919.74 407.30) scale(0.5482 1)">m</text>
<text x="0" y="0" font-size="17.20" fill="#231815" font-family="Liberation Sans" text-rendering="geometricPrecision" stroke="#231815" stroke-width="0.25" transform="translate(927.60 407.30) scale(0.8545 1)">A</text>
<text x="0" y="0" font-size="15.90" fill="#231815" font-family="Liberation Sans" text-rendering="geometricPrecision" stroke="#231815" stroke-width="0.25" transform="translate(883.42 502.60) scale(1.0863 1)">L</text>
<text x="0" y="0" font-size="15.90" fill="#231815" font-family="Liberation Sans" text-rendering="geometricPrecision" stroke="#231815" stroke-width="0.25" transform="translate(886.71 554.60) scale(0.7749 1)">N</text>
<line x1="-3.3" y1="972.7" x2="19.2" y2="972.7" stroke="#808080" stroke-width="1.5" stroke-linecap="butt" />
<line x1="41.7" y1="972.7" x2="64.2" y2="972.7" stroke="#808080" stroke-width="1.5" stroke-linecap="butt" />
<line x1="86.7" y1="972.7" x2="109.2" y2="972.7" stroke="#808080" stroke-width="1.5" stroke-linecap="butt" />
<line x1="131.7" y1="972.7" x2="154.2" y2="972.7" stroke="#808080" stroke-width="1.5" stroke-linecap="butt" />
<line x1="176.7" y1="972.7" x2="199.2" y2="972.7" stroke="#808080" stroke-width="1.5" stroke-linecap="butt" />
<line x1="221.7" y1="972.7" x2="244.2" y2="972.7" stroke="#808080" stroke-width="1.5" stroke-linecap="butt" />
<line x1="266.7" y1="972.7" x2="289.2" y2="972.7" stroke="#808080" stroke-width="1.5" stroke-linecap="butt" />
<line x1="311.7" y1="972.7" x2="334.2" y2="972.7" stroke="#808080" stroke-width="1.5" stroke-linecap="butt" />
<line x1="356.7" y1="972.7" x2="379.2" y2="972.7" stroke="#808080" stroke-width="1.5" stroke-linecap="butt" />
<line x1="401.7" y1="972.7" x2="424.2" y2="972.7" stroke="#808080" stroke-width="1.5" stroke-linecap="butt" />
<line x1="446.7" y1="972.7" x2="469.2" y2="972.7" stroke="#808080" stroke-width="1.5" stroke-linecap="butt" />
<line x1="491.7" y1="972.7" x2="514.2" y2="972.7" stroke="#808080" stroke-width="1.5" stroke-linecap="butt" />
<line x1="536.7" y1="972.7" x2="559.2" y2="972.7" stroke="#808080" stroke-width="1.5" stroke-linecap="butt" />
<line x1="581.7" y1="972.7" x2="604.2" y2="972.7" stroke="#808080" stroke-width="1.5" stroke-linecap="butt" />
<line x1="626.7" y1="972.7" x2="649.2" y2="972.7" stroke="#808080" stroke-width="1.5" stroke-linecap="butt" />
<line x1="671.7" y1="972.7" x2="694.2" y2="972.7" stroke="#808080" stroke-width="1.5" stroke-linecap="butt" />
<line x1="716.7" y1="972.7" x2="739.2" y2="972.7" stroke="#808080" stroke-width="1.5" stroke-linecap="butt" />
<line x1="761.7" y1="972.7" x2="784.2" y2="972.7" stroke="#808080" stroke-width="1.5" stroke-linecap="butt" />
<line x1="806.7" y1="972.7" x2="829.2" y2="972.7" stroke="#808080" stroke-width="1.5" stroke-linecap="butt" />
<line x1="851.7" y1="972.7" x2="874.2" y2="972.7" stroke="#808080" stroke-width="1.5" stroke-linecap="butt" />
<line x1="896.7" y1="972.7" x2="919.2" y2="972.7" stroke="#808080" stroke-width="1.5" stroke-linecap="butt" />
<line x1="941.7" y1="972.7" x2="964.2" y2="972.7" stroke="#808080" stroke-width="1.5" stroke-linecap="butt" />
<line x1="986.7" y1="972.7" x2="1009.2" y2="972.7" stroke="#808080" stroke-width="1.5" stroke-linecap="butt" />
<polygon points="63.0,999.4 65.76,1007.06 73.9,1007.32 67.47,1012.31 69.74,1020.13 63.0,1015.56 56.26,1020.13 58.53,1012.31 52.1,1007.32 60.24,1007.06" fill="#000"/>
<polygon points="63.05,1043.4 65.81,1051.06 73.95,1051.32 67.52,1056.31 69.79,1064.13 63.05,1059.56 56.31,1064.13 58.58,1056.31 52.15,1051.32 60.29,1051.06" fill="#000"/>
<polygon points="62.25,1084.04 65.01,1091.7 73.15,1091.96 66.72,1096.95 68.99,1104.77 62.25,1100.2 55.51,1104.77 57.78,1096.95 51.35,1091.96 59.49,1091.7" fill="#000"/>
<text x="87.0" y="1020.2" font-size="24.75" fill="#000" text-anchor="start" font-weight="normal" font-family="Liberation Sans" text-rendering="geometricPrecision" stroke="#000" stroke-width="0.35">传感器和通讯线应使用屏蔽绞线.，并在一点接地，布线应远离强电走线；</text>
<text x="87.4" y="1063.1" font-size="24.75" fill="#000" text-anchor="start" font-weight="normal" font-family="Liberation Sans" text-rendering="geometricPrecision" stroke="#000" stroke-width="0.35">不同外形尺寸仪表，接线图不尽相同，请以实物为准。</text>
<text x="87.0" y="1106.0" font-size="24.75" fill="#000" text-anchor="start" font-weight="normal" font-family="Liberation Sans" text-rendering="geometricPrecision" stroke="#000" stroke-width="0.35">仪表盘式安装：</text>
<text x="86.6" y="1147.4" font-size="24.25" fill="#000" text-anchor="start" font-weight="normal" font-family="Liberation Sans" text-rendering="geometricPrecision" stroke="#000" stroke-width="0.35">根据仪表外形尺寸在表盘面上开孔，将仪表嵌入表盘，然后从表盘背面用固定支</text>
<text x="40.8" y="1180.4" font-size="24.25" fill="#000" text-anchor="start" font-weight="normal" font-family="Liberation Sans" text-rendering="geometricPrecision" stroke="#000" stroke-width="0.35">架将仪表固定在表盘面上，如需安装多台仪表，要求仪表与仪表之间开孔间距</text>
<polyline points="868.6,1162.4 885.4,1168.3 868.6,1174.3" fill="none" stroke="#000" stroke-width="2.0" stroke-linejoin="round"/>
<line x1="868.6" y1="1179.6" x2="886.6" y2="1172.7" stroke="#000" stroke-width="2.0" stroke-linecap="square" />
<text x="40.8" y="1213.4" font-size="24.25" fill="#000" text-anchor="start" font-weight="normal" font-family="Liberation Sans" text-rendering="geometricPrecision" stroke="#000" stroke-width="0.35"><tspan letter-spacing="1.2">38mm</tspan>，以保证必要的散热及装卸空间。如下图所示：</text>
<text x="51.0" y="1741.4" font-size="24.3" fill="#000" text-anchor="start" font-weight="normal" font-family="Liberation Sans" text-rendering="geometricPrecision" stroke="#000" stroke-width="0.35">注：仪表的安装位置应尽量远离马达、变压器等有冲击和震动及电磁干扰的场合。</text>
<text x="361.7" y="1254.9" font-size="17.3" fill="#231815" text-anchor="start" font-weight="normal" font-family="Liberation Sans" text-rendering="geometricPrecision" stroke="#231815" stroke-width="0.1">控制柜仪表盘</text>
<text x="440.6" y="1309.0" font-size="17.5" fill="#231815" text-anchor="start" font-weight="normal" font-family="Liberation Sans" text-rendering="geometricPrecision" stroke="#231815" stroke-width="0.1">固定卡扣</text>
<text x="611.8" y="1315.5" font-size="16.9" fill="#231815" text-anchor="start" font-weight="normal" font-family="Liberation Sans" text-rendering="geometricPrecision" stroke="#231815" stroke-width="0.1">接线端子</text>
<text x="626.3" y="1371.5" font-size="17.0" fill="#231815" text-anchor="start" font-weight="normal" font-family="Liberation Sans" text-rendering="geometricPrecision" stroke="#231815" stroke-width="0.1">接线盖</text>
<text x="218.1" y="1378.1" font-size="17.1" fill="#231815" text-anchor="start" font-weight="normal" font-family="Liberation Sans" text-rendering="geometricPrecision" stroke="#231815" stroke-width="0.1">仪表面板</text>
<text x="265.3" y="1631.5" font-size="17.0" fill="#231815" text-anchor="start" font-weight="normal" font-family="Liberation Sans" text-rendering="geometricPrecision" stroke="#231815" stroke-width="0.1">密封垫</text>
<text x="440.7" y="1653.6" font-size="17.4" fill="#231815" text-anchor="start" font-weight="normal" font-family="Liberation Sans" text-rendering="geometricPrecision" stroke="#231815" stroke-width="0.1">固定卡扣</text>
<path d="M465.7,1265.7 H360.6 L354.4,1293" fill="none" stroke="#231815" stroke-width="1.8" stroke-dasharray="4.5 5.3"/>
<circle cx="354.4" cy="1294.8" r="3.3" fill="#231815" stroke="none" stroke-width="0"/>
<path d="M508.9,1319.8 H427.7 L421,1347" fill="none" stroke="#231815" stroke-width="1.8" stroke-dasharray="4.5 5.3"/>
<circle cx="420.6" cy="1349.1" r="3.2" fill="#231815" stroke="none" stroke-width="0"/>
<path d="M679,1319.9 H611.1 L573.1,1369.2" fill="none" stroke="#231815" stroke-width="1.8" stroke-dasharray="4.5 5.3"/>
<path d="M573.1,1369.2 L566,1378.5" fill="none" stroke="#231815" stroke-width="1.6" />
<path d="M678.2,1377.3 H624 L596.6,1401.5" fill="none" stroke="#231815" stroke-width="1.8" stroke-dasharray="4.5 5.3"/>
<path d="M217.8,1385.6 H291.3 L323,1414" fill="none" stroke="#231815" stroke-width="1.8" stroke-dasharray="4.5 5.3"/>
<circle cx="325.7" cy="1417.9" r="3.3" fill="#231815" stroke="none" stroke-width="0"/>
<path d="M265.8,1637.6 H340.5 L346.4,1611" fill="none" stroke="#231815" stroke-width="1.8" stroke-dasharray="4.5 5.3"/>
<circle cx="346.7" cy="1609.3" r="1.7" fill="#231815" stroke="none" stroke-width="0"/>
<path d="M508.9,1659.7 H427.3 L421,1633" fill="none" stroke="#231815" stroke-width="1.8" stroke-dasharray="4.5 5.3"/>
<circle cx="420.4" cy="1630.0" r="3.2" fill="#231815" stroke="none" stroke-width="0"/>
<rect x="344.5" y="1365.2" width="4.4" height="243" fill="#d9d9d9"/>
<path d="M343.2,1364.5 H326.8 Q320.3,1364.5 320.3,1371 V1606.2 Q320.3,1612.7 326.8,1612.7 H343.2 V1364.5" fill="none" stroke="#231815" stroke-width="1.8" />
<line x1="334.8" y1="1365.5" x2="334.8" y2="1612" stroke="#231815" stroke-width="0.9" stroke-linecap="square" />
<rect x="329.9" y="1375.1" width="4.5" height="21.9" rx="0" fill="none" stroke="#231815" stroke-width="0.9" />
<rect x="330.0" y="1580.9" width="4.5" height="21.8" rx="0" fill="none" stroke="#231815" stroke-width="0.9" />
<line x1="349.5" y1="1369.6" x2="574.5" y2="1369.6" stroke="#231815" stroke-width="1.7" stroke-linecap="square" />
<line x1="349.5" y1="1607.0" x2="553.5" y2="1607.0" stroke="#231815" stroke-width="1.6" stroke-linecap="square" />
<path d="M361.8,1402.7 H488.5 L493.7,1409 V1575.3 H361.8 Z" fill="none" stroke="#999" stroke-width="1.0" />
<path d="M363.6,1388.8 V1391.8 H500.5 V1379 H468.7" fill="none" stroke="#231815" stroke-width="1.6" />
<path d="M363.6,1591.3 V1588 H500.5 V1600.7 H468.7" fill="none" stroke="#231815" stroke-width="1.6" />
<rect x="359.3" y="1352.8" width="109.4" height="36" fill="#575354"/>
<rect x="359.3" y="1591.3" width="109.4" height="36.3" fill="#575354"/>
<clipPath id="pc"><rect x="350.1" y="1298.1" width="8.6" height="402"/></clipPath>
<g clip-path="url(#pc)">
<line x1="349.5" y1="1302.4" x2="359.5" y2="1308.8" stroke="#000" stroke-width="1.5" stroke-linecap="butt" />
<line x1="349.5" y1="1315.4" x2="359.5" y2="1321.8" stroke="#000" stroke-width="1.5" stroke-linecap="butt" />
<line x1="349.5" y1="1328.5" x2="359.5" y2="1334.9" stroke="#000" stroke-width="1.5" stroke-linecap="butt" />
<line x1="349.5" y1="1341.5" x2="359.5" y2="1347.9" stroke="#000" stroke-width="1.5" stroke-linecap="butt" />
<line x1="349.5" y1="1354.5" x2="359.5" y2="1360.9" stroke="#000" stroke-width="1.5" stroke-linecap="butt" />
<line x1="349.5" y1="1367.5" x2="359.5" y2="1373.9" stroke="#000" stroke-width="1.5" stroke-linecap="butt" />
<line x1="349.5" y1="1380.6" x2="359.5" y2="1387.0" stroke="#000" stroke-width="1.5" stroke-linecap="butt" />
<line x1="349.5" y1="1393.6" x2="359.5" y2="1400.0" stroke="#000" stroke-width="1.5" stroke-linecap="butt" />
<line x1="349.5" y1="1406.6" x2="359.5" y2="1413.0" stroke="#000" stroke-width="1.5" stroke-linecap="butt" />
<line x1="349.5" y1="1419.7" x2="359.5" y2="1426.1" stroke="#000" stroke-width="1.5" stroke-linecap="butt" />
<line x1="349.5" y1="1432.7" x2="359.5" y2="1439.1" stroke="#000" stroke-width="1.5" stroke-linecap="butt" />
<line x1="349.5" y1="1445.7" x2="359.5" y2="1452.1" stroke="#000" stroke-width="1.5" stroke-linecap="butt" />
<line x1="349.5" y1="1458.8" x2="359.5" y2="1465.2" stroke="#000" stroke-width="1.5" stroke-linecap="butt" />
<line x1="349.5" y1="1471.8" x2="359.5" y2="1478.2" stroke="#000" stroke-width="1.5" stroke-linecap="butt" />
<line x1="349.5" y1="1484.8" x2="359.5" y2="1491.2" stroke="#000" stroke-width="1.5" stroke-linecap="butt" />
<line x1="349.5" y1="1497.8" x2="359.5" y2="1504.2" stroke="#000" stroke-width="1.5" stroke-linecap="butt" />
<line x1="349.5" y1="1510.9" x2="359.5" y2="1517.3" stroke="#000" stroke-width="1.5" stroke-linecap="butt" />
<line x1="349.5" y1="1523.9" x2="359.5" y2="1530.3" stroke="#000" stroke-width="1.5" stroke-linecap="butt" />
<line x1="349.5" y1="1536.9" x2="359.5" y2="1543.3" stroke="#000" stroke-width="1.5" stroke-linecap="butt" />
<line x1="349.5" y1="1550.0" x2="359.5" y2="1556.4" stroke="#000" stroke-width="1.5" stroke-linecap="butt" />
<line x1="349.5" y1="1563.0" x2="359.5" y2="1569.4" stroke="#000" stroke-width="1.5" stroke-linecap="butt" />
<line x1="349.5" y1="1576.0" x2="359.5" y2="1582.4" stroke="#000" stroke-width="1.5" stroke-linecap="butt" />
<line x1="349.5" y1="1589.1" x2="359.5" y2="1595.5" stroke="#000" stroke-width="1.5" stroke-linecap="butt" />
<line x1="349.5" y1="1602.1" x2="359.5" y2="1608.5" stroke="#000" stroke-width="1.5" stroke-linecap="butt" />
<line x1="349.5" y1="1615.1" x2="359.5" y2="1621.5" stroke="#000" stroke-width="1.5" stroke-linecap="butt" />
<line x1="349.5" y1="1628.1" x2="359.5" y2="1634.5" stroke="#000" stroke-width="1.5" stroke-linecap="butt" />
<line x1="349.5" y1="1641.2" x2="359.5" y2="1647.6" stroke="#000" stroke-width="1.5" stroke-linecap="butt" />
<line x1="349.5" y1="1654.2" x2="359.5" y2="1660.6" stroke="#000" stroke-width="1.5" stroke-linecap="butt" />
<line x1="349.5" y1="1667.2" x2="359.5" y2="1673.6" stroke="#000" stroke-width="1.5" stroke-linecap="butt" />
<line x1="349.5" y1="1680.3" x2="359.5" y2="1686.7" stroke="#000" stroke-width="1.5" stroke-linecap="butt" />
</g>
<path d="M350.1,1700 V1299.6 Q350.1,1298.1 351.6,1298.1 H357.2 Q358.7,1298.1 358.7,1299.6 V1700 Q358.7,1701.2 357.5,1701.2 H351.3 Q350.1,1701.2 350.1,1700 Z" fill="none" stroke="#000" stroke-width="1.6" />
<rect x="552.8" y="1368.8" width="2.3" height="239.7" fill="#231815"/>
<rect x="571.1" y="1368.8" width="3.9" height="239.7" fill="#231815"/>
<rect x="552.8" y="1373.7" width="35.2" height="1.9" fill="#231815"/>
<rect x="555" y="1375.60" width="6.7" height="14.25" fill="#231815"/>
<path d="M558.3,1376.80 Q556.4,1382.72 558.3,1388.65 Q559.9,1382.72 558.3,1376.80 Z" fill="#9a9495"/>
<rect x="555" y="1395.05" width="6.7" height="14.04" fill="#231815"/>
<path d="M558.3,1396.25 Q556.4,1402.07 558.3,1407.88 Q559.9,1402.07 558.3,1396.25 Z" fill="#9a9495"/>
<rect x="555" y="1414.28" width="6.7" height="14.04" fill="#231815"/>
<path d="M558.3,1415.48 Q556.4,1421.30 558.3,1427.12 Q559.9,1421.30 558.3,1415.48 Z" fill="#9a9495"/>
<rect x="555" y="1433.52" width="6.7" height="14.04" fill="#231815"/>
<path d="M558.3,1434.72 Q556.4,1440.54 558.3,1446.36 Q559.9,1440.54 558.3,1434.72 Z" fill="#9a9495"/>
<rect x="555" y="1452.75" width="6.7" height="14.04" fill="#231815"/>
<path d="M558.3,1453.95 Q556.4,1459.77 558.3,1465.59 Q559.9,1459.77 558.3,1453.95 Z" fill="#9a9495"/>
<rect x="555" y="1471.99" width="6.7" height="14.04" fill="#231815"/>
<path d="M558.3,1473.19 Q556.4,1479.01 558.3,1484.83 Q559.9,1479.01 558.3,1473.19 Z" fill="#9a9495"/>
<rect x="555" y="1491.22" width="6.7" height="14.04" fill="#231815"/>
<path d="M558.3,1492.42 Q556.4,1498.24 558.3,1504.06 Q559.9,1498.24 558.3,1492.42 Z" fill="#9a9495"/>
<rect x="555" y="1510.46" width="6.7" height="14.04" fill="#231815"/>
<path d="M558.3,1511.66 Q556.4,1517.48 558.3,1523.30 Q559.9,1517.48 558.3,1511.66 Z" fill="#9a9495"/>
<rect x="555" y="1529.69" width="6.7" height="14.04" fill="#231815"/>
<path d="M558.3,1530.89 Q556.4,1536.71 558.3,1542.53 Q559.9,1536.71 558.3,1530.89 Z" fill="#9a9495"/>
<rect x="555" y="1548.93" width="6.7" height="14.04" fill="#231815"/>
<path d="M558.3,1550.13 Q556.4,1555.95 558.3,1561.77 Q559.9,1555.95 558.3,1550.13 Z" fill="#9a9495"/>
<rect x="555" y="1568.16" width="6.7" height="14.04" fill="#231815"/>
<path d="M558.3,1569.37 Q556.4,1575.18 558.3,1581.00 Q559.9,1575.18 558.3,1569.37 Z" fill="#9a9495"/>
<rect x="555" y="1587.40" width="6.7" height="13.00" fill="#231815"/>
<path d="M558.3,1588.60 Q556.4,1593.90 558.3,1599.20 Q559.9,1593.90 558.3,1588.60 Z" fill="#9a9495"/>
<rect x="552.8" y="1389.85" width="22.2" height="5.2" fill="#231815"/>
<rect x="555" y="1391.75" width="16.1" height="1.4" fill="#bdb8b9"/>
<line x1="575" y1="1392.45" x2="587.8" y2="1392.45" stroke="#7a7576" stroke-width="0.9" stroke-linecap="butt" />
<rect x="552.8" y="1409.09" width="22.2" height="5.2" fill="#231815"/>
<rect x="555" y="1410.98" width="16.1" height="1.4" fill="#bdb8b9"/>
<line x1="575" y1="1411.68" x2="587.8" y2="1411.68" stroke="#7a7576" stroke-width="0.9" stroke-linecap="butt" />
<rect x="552.8" y="1428.32" width="22.2" height="5.2" fill="#231815"/>
<rect x="555" y="1430.22" width="16.1" height="1.4" fill="#bdb8b9"/>
<line x1="575" y1="1430.92" x2="587.8" y2="1430.92" stroke="#7a7576" stroke-width="0.9" stroke-linecap="butt" />
<rect x="552.8" y="1447.56" width="22.2" height="5.2" fill="#231815"/>
<rect x="555" y="1449.45" width="16.1" height="1.4" fill="#bdb8b9"/>
<line x1="575" y1="1450.15" x2="587.8" y2="1450.15" stroke="#7a7576" stroke-width="0.9" stroke-linecap="butt" />
<rect x="552.8" y="1466.79" width="22.2" height="5.2" fill="#231815"/>
<rect x="555" y="1468.69" width="16.1" height="1.4" fill="#bdb8b9"/>
<line x1="575" y1="1469.39" x2="587.8" y2="1469.39" stroke="#7a7576" stroke-width="0.9" stroke-linecap="butt" />
<rect x="552.8" y="1486.03" width="22.2" height="5.2" fill="#231815"/>
<rect x="555" y="1487.92" width="16.1" height="1.4" fill="#bdb8b9"/>
<line x1="575" y1="1488.62" x2="587.8" y2="1488.62" stroke="#7a7576" stroke-width="0.9" stroke-linecap="butt" />
<rect x="552.8" y="1505.26" width="22.2" height="5.2" fill="#231815"/>
<rect x="555" y="1507.16" width="16.1" height="1.4" fill="#bdb8b9"/>
<line x1="575" y1="1507.86" x2="587.8" y2="1507.86" stroke="#7a7576" stroke-width="0.9" stroke-linecap="butt" />
<rect x="552.8" y="1524.50" width="22.2" height="5.2" fill="#231815"/>
<rect x="555" y="1526.39" width="16.1" height="1.4" fill="#bdb8b9"/>
<line x1="575" y1="1527.1" x2="587.8" y2="1527.1" stroke="#7a7576" stroke-width="0.9" stroke-linecap="butt" />
<rect x="552.8" y="1543.73" width="22.2" height="5.2" fill="#231815"/>
<rect x="555" y="1545.63" width="16.1" height="1.4" fill="#bdb8b9"/>
<line x1="575" y1="1546.33" x2="587.8" y2="1546.33" stroke="#7a7576" stroke-width="0.9" stroke-linecap="butt" />
<rect x="552.8" y="1562.97" width="22.2" height="5.2" fill="#231815"/>
<rect x="555" y="1564.87" width="16.1" height="1.4" fill="#bdb8b9"/>
<line x1="575" y1="1565.57" x2="587.8" y2="1565.57" stroke="#7a7576" stroke-width="0.9" stroke-linecap="butt" />
<rect x="552.8" y="1582.20" width="22.2" height="5.2" fill="#231815"/>
<rect x="555" y="1584.10" width="16.1" height="1.4" fill="#bdb8b9"/>
<line x1="575" y1="1584.8" x2="587.8" y2="1584.8" stroke="#7a7576" stroke-width="0.9" stroke-linecap="butt" />
<rect x="552.8" y="1600.4" width="22.2" height="3.2" fill="#231815"/>
<rect x="552.8" y="1606" width="22.2" height="2.5" fill="#231815"/>
<line x1="575" y1="1601.2" x2="587.8" y2="1601.2" stroke="#231815" stroke-width="1.5" stroke-linecap="butt" />
<circle cx="564.2" cy="1380.9" r="3.2" fill="#231815" stroke="none" stroke-width="0"/>
<path d="M587.8,1370 H597 V1606 Q597,1608.6 592.4,1608.6 Q587.8,1608.6 587.8,1606 Z" fill="#231815" stroke="#231815" stroke-width="0" />
</svg>
</body></html>
